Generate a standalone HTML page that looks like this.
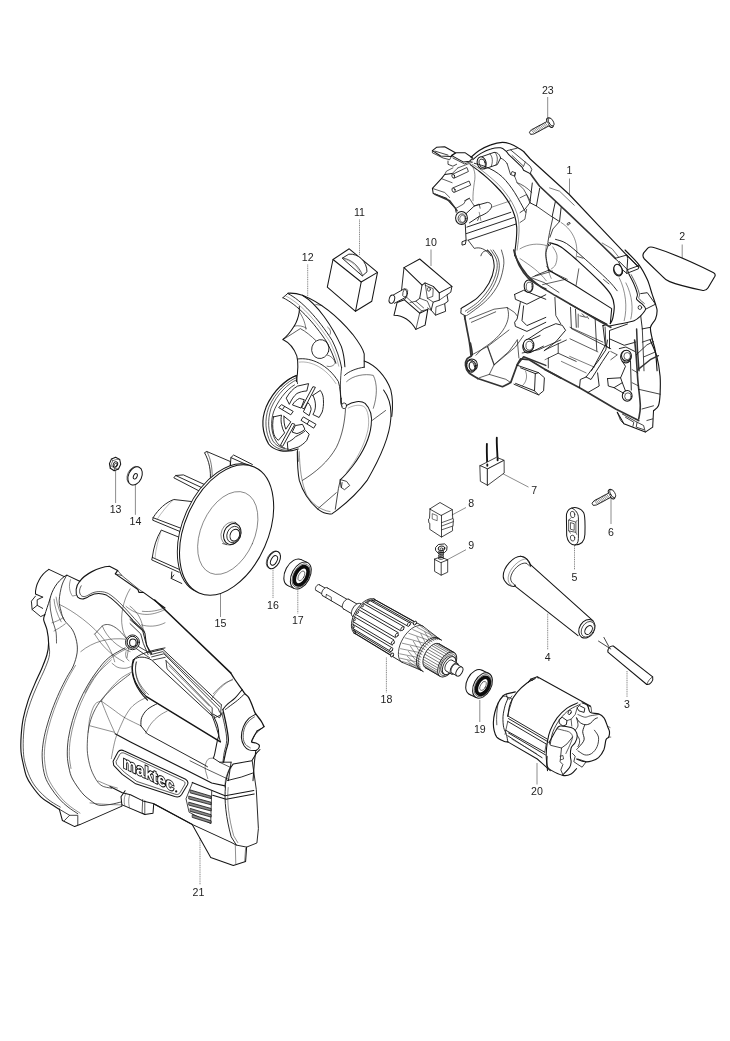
<!DOCTYPE html>
<html><head><meta charset="utf-8"><title>Parts diagram</title>
<style>
html,body{margin:0;padding:0;background:#fff;}
body{width:730px;height:1041px;overflow:hidden;font-family:"Liberation Sans",sans-serif;}
svg{display:block;filter:grayscale(1);}
svg text{font-family:"Liberation Sans",sans-serif;font-size:10.6px;fill:#222;text-anchor:middle;}
.ld line{stroke:#808080;stroke-width:0.9;}
.ld line.dt{stroke:#6a6a6a;stroke-width:0.8;stroke-dasharray:1.1 0.7;}
.pt path,.pt ellipse{stroke-linecap:round;stroke-linejoin:round;}
</style></head><body>
<svg width="730" height="1041" viewBox="0 0 730 1041">
<rect width="730" height="1041" fill="#fff"/>
<g class="ld">
<line x1="547.7" y1="97" x2="547.7" y2="117.5"/>
<line x1="569.5" y1="178.5" x2="569.5" y2="194.5"/>
<line x1="682.2" y1="244.5" x2="682.2" y2="258"/>
<line x1="431" y1="249.5" x2="431" y2="266"/>
<line x1="359.5" y1="219.5" x2="359.5" y2="255" class="dt"/>
<line x1="307.7" y1="264.5" x2="307.7" y2="296" class="dt"/>
<line x1="502.8" y1="473.7" x2="528.5" y2="487.1"/>
<line x1="451.8" y1="515.1" x2="466" y2="507.5"/>
<line x1="446.8" y1="560" x2="466" y2="549.7"/>
<line x1="611" y1="496.7" x2="611" y2="524"/>
<line x1="574.5" y1="542.7" x2="574.5" y2="570" class="dt"/>
<line x1="547.7" y1="613.7" x2="547.7" y2="650" class="dt"/>
<line x1="627" y1="671" x2="627" y2="697" class="dt"/>
<line x1="479.8" y1="700" x2="479.8" y2="722"/>
<line x1="537" y1="763" x2="537" y2="784.5"/>
<line x1="115.6" y1="470" x2="115.6" y2="503"/>
<line x1="135.4" y1="485" x2="135.4" y2="514.8"/>
<line x1="220.5" y1="592.7" x2="220.5" y2="617"/>
<line x1="273" y1="568" x2="273" y2="598.3" class="dt"/>
<line x1="297.8" y1="589.4" x2="297.8" y2="613.4" class="dt"/>
<line x1="386.4" y1="657.5" x2="386.4" y2="692.4" class="dt"/>
<line x1="200" y1="838" x2="200" y2="885" class="dt"/>
</g>
<g class="pt">
<path d="M 432.4 150.6 L 436.5 147.3 L 444.7 146.8 L 455.4 152.8 L 451.3 156.4 L 440.6 156 Z" fill="none" stroke="#151515" stroke-width="1.03"/>
<path d="M 434.9 151.1 L 448 155.1 M 432.4 150.6 L 432.4 152.8 L 443.1 158 L 449.7 159.7 L 451.3 156.4" fill="none" stroke="#151515" stroke-width="0.8"/>
<path d="M 448 161 L 448 164.3 L 452.9 166.2 L 456.6 164.3" fill="none" stroke="#151515" stroke-width="0.8"/>
<path d="M 451.3 155.4 L 456.2 152.8 L 465.3 152.8 L 472.7 158 L 469.4 161.3 L 463.6 162.1 Z" fill="none" stroke="#151515" stroke-width="1.03"/>
<path d="M 452.9 158 L 464.5 163.9 L 471.4 161.3" fill="none" stroke="#151515" stroke-width="0.8"/>
<path d="M471.0 157.2 C472.4 156.1 476.0 152.7 479.2 150.6 C482.5 148.6 486.9 146.2 490.8 144.9 C494.6 143.5 499.0 142.5 502.3 142.4 C505.5 142.3 507.7 143.1 510.5 144.0 C513.2 145.0 516.5 146.9 518.7 148.2 C520.9 149.4 522.8 150.9 523.6 151.4" fill="none" stroke="#151515" stroke-width="1.15"/>
<path d="M472.7 159.7 C474.0 158.6 477.9 155.2 480.9 153.4 C483.9 151.6 487.5 149.9 490.8 149.0 C494.0 148.0 498.0 147.4 500.6 147.8 C503.2 148.2 505.4 150.8 506.4 151.4" fill="none" stroke="#151515" stroke-width="1.03"/>
<path d="M 506.4 151.4 L 508.8 154.7 L 522 167.1 L 523.6 170.3 L 530.2 173.6" fill="none" stroke="#151515" stroke-width="1.03"/>
<path d="M 507.2 150.6 L 510.5 149.8 L 525.3 162.1 L 530.2 166.2 L 531.8 169.5 L 530.2 173.6 M 510.5 149.8 L 517.1 148.2" fill="none" stroke="#151515" stroke-width="0.8"/>
<path d="M 512.1 155.5 L 523.6 166.2 M 525.3 162.1 L 523.6 166.2" fill="none" stroke="#151515" stroke-width="0.69"/>
<path d="M 481.7 156.7 L 494 152.4 C 497.3 152.1 499.8 154.7 500.6 158 L 497.3 164.6 L 484.5 168.9" fill="none" stroke="#151515" stroke-width="0.92"/>
<ellipse cx="481.7" cy="162.9" rx="4.4" ry="6.2" transform="rotate(-15 481.7 162.9)" fill="#fff" stroke="#151515" stroke-width="1.03"/>
<ellipse cx="482.2" cy="163.3" rx="3.0" ry="4.4" transform="rotate(-15 482.2 163.3)" fill="none" stroke="#151515" stroke-width="0.8"/>
<path d="M 489.9 153.9 C 492.7 156.4 493.2 162.1 491.1 166.6 M 494.9 152.4 C 497.7 155.1 498.2 160.5 496 164.9" fill="none" stroke="#151515" stroke-width="0.69"/>
<path d="M470.2 164.6 C471.7 165.7 476.4 168.9 479.2 171.2 C482.1 173.4 484.7 175.6 487.5 178.1 C490.2 180.5 493.1 183.3 495.7 186.0 C498.3 188.6 500.8 191.2 503.1 194.2 C505.4 197.2 507.7 200.5 509.7 204.0 C511.6 207.6 513.4 211.7 514.6 215.5 C515.8 219.4 516.4 223.2 516.7 227.1 C517.0 230.9 516.7 234.7 516.4 238.6 C516.1 242.4 515.4 247.2 515.1 250.1 C514.8 252.9 514.7 254.9 514.6 255.8" fill="none" stroke="#151515" stroke-width="1.15"/>
<path d="M474.3 163.3 C476.0 163.8 480.9 165.0 484.2 166.2 C487.5 167.5 491.0 169.1 494.0 170.8 C497.1 172.6 499.8 174.7 502.3 176.9 C504.7 179.2 506.8 181.7 508.8 184.3 C510.9 186.9 512.7 189.5 514.6 192.5 C516.5 195.5 518.5 199.1 520.3 202.4 C522.2 205.7 524.7 210.6 525.6 212.3" fill="none" stroke="#151515" stroke-width="0.92"/>
<path d="M472.3 164.3 C473.9 165.3 478.8 168.2 481.7 170.3 C484.6 172.5 487.2 174.6 489.9 176.9 C492.7 179.2 495.5 181.7 498.2 184.3 C500.8 187.0 503.2 189.8 505.5 192.9 C507.9 195.9 510.2 199.2 512.1 202.7 C514.0 206.2 515.9 210.1 517.1 213.9 C518.2 217.7 518.8 221.6 519.0 225.4 C519.3 229.2 519.0 232.8 518.7 236.9 C518.4 241.0 517.3 247.9 517.1 250.1" fill="none" stroke="#3a3a3a" stroke-width="0.57"/>
<path d="M 500.6 158 C 503.9 159.7 505.9 161.3 507.2 163.8 M 507.2 163.8 L 510.5 174.5 L 514.6 176.1 L 515.4 172.8 L 512.1 171.5 L 510.8 174.5 M 515.4 172.8 L 514.6 176.1" fill="none" stroke="#151515" stroke-width="0.8"/>
<path d="M 514.6 176.1 L 517.1 182.7 L 523.6 189.2 L 530.2 200.8 M 517.1 182.7 C 522 184.3 526.9 187.6 531.8 192.5" fill="none" stroke="#151515" stroke-width="0.69"/>
<path d="M 432.4 188.4 L 441.4 178.6 L 444.7 174.5 L 452.1 173.6" fill="none" stroke="#151515" stroke-width="1.03"/>
<path d="M 432.4 188.4 L 433.2 193.4 L 446.4 198.3 L 451.3 204 L 455.4 208.2 L 456.2 212.3" fill="none" stroke="#151515" stroke-width="1.03"/>
<path d="M 434.9 194.2 L 449.7 200.8 L 457.1 210.6" fill="none" stroke="#333" stroke-width="1.49"/>
<path d="M 432.4 188.4 L 444.7 192.5 L 449.7 197.5 M 444.7 174.5 L 446.4 171.2 L 452.9 167.9 M 441.4 178.6 L 452.1 182.7" fill="none" stroke="#151515" stroke-width="0.69"/>
<path d="M 452.9 174.1 L 466.9 167.5 L 468.4 171.5 L 454.3 178.1" fill="none" stroke="#151515" stroke-width="0.8"/>
<ellipse cx="453.3" cy="176.1" rx="1.3" ry="2.1" transform="rotate(-20 453.3 176.1)" fill="#fff" stroke="#151515" stroke-width="0.8"/>
<path d="M 452.9 187.9 L 469.1 181 L 470.7 185.1 L 454.6 192.2" fill="none" stroke="#151515" stroke-width="0.8"/>
<ellipse cx="453.6" cy="190.1" rx="1.5" ry="2.3" transform="rotate(-20 453.6 190.1)" fill="#fff" stroke="#151515" stroke-width="0.8"/>
<path d="M 471 164.6 C 474.3 167.9 476 174.5 474.3 182.7 C 473.5 189.2 472.7 194.2 473 200.8" fill="none" stroke="#3a3a3a" stroke-width="0.57"/>
<path d="M 457.9 167.9 L 472.7 162.1 M 452.1 173.6 L 457.9 167.9" fill="none" stroke="#151515" stroke-width="0.69"/>
<ellipse cx="461.5" cy="218.0" rx="5.9" ry="6.6" transform="rotate(0 461.5 218.0)" fill="#fff" stroke="#151515" stroke-width="1.03"/>
<ellipse cx="462.0" cy="218.5" rx="3.9" ry="4.6" transform="rotate(0 462.0 218.5)" fill="none" stroke="#151515" stroke-width="0.8"/>
<ellipse cx="462.5" cy="218.8" rx="2.8" ry="3.5" transform="rotate(0 462.5 218.8)" fill="none" stroke="#151515" stroke-width="0.57"/>
<path d="M 466.1 213.6 L 474.3 206 L 487.5 202.4 C 490.8 202.7 492.1 204.9 491.4 207.3 C 489.9 211.4 484.2 214.7 479.2 216.4 L 469.4 222.9" fill="none" stroke="#151515" stroke-width="0.92"/>
<path d="M 474.3 206 L 479.2 204 L 480.1 208.2 M 479.2 216.4 L 477.6 220.5 M 464.5 200.8 L 469.4 198.3 L 474.3 206" fill="none" stroke="#151515" stroke-width="0.69"/>
<path d="M 456.2 208.2 L 463.6 204 L 466.1 199.9 L 469.4 198.3" fill="none" stroke="#151515" stroke-width="0.69"/>
<path d="M 465.3 224.6 L 466.1 240.2 L 462 241.8 L 462 245.1 L 465.3 244.3 L 466.1 240.2 M 466.9 227.1 L 510.8 212.3 M 466.4 233.6 L 513.8 217.5 M 468.1 240.2 L 515.7 224.1" fill="none" stroke="#151515" stroke-width="0.92"/>
<path d="M 468.1 240.2 L 474.3 248.4 C 479.2 246.8 485.8 248.4 490.8 255.8 M 480.9 255.8 C 481.7 252.5 484.2 250.1 487.5 250.9" fill="none" stroke="#151515" stroke-width="0.8"/>
<path d="M 479.2 212.3 L 480.9 220.5 M 491.4 207.3 L 510.5 200.8" fill="none" stroke="#3a3a3a" stroke-width="0.57"/>
<path d="M 523.6 151.5 L 530.2 159 L 569.3 194.5 L 598.9 225.8 L 625.2 253.7 L 638.7 267.2" fill="none" stroke="#151515" stroke-width="1.15"/>
<path d="M 530.2 173.6 L 539.4 186 L 569.3 214.2 L 602.2 245.5 L 615.3 258.3" fill="none" stroke="#333" stroke-width="1.61"/>
<path d="M 615.3 258.3 L 626.8 255 L 638.7 267.2 L 638.4 268.8 L 626.8 273.4 L 621.9 269.3 L 618.6 261.9 Z M 626.8 255 L 627.7 258.6 L 626.8 273.4" fill="none" stroke="#151515" stroke-width="0.92"/>
<path d="M 549.6 187.9 L 559.5 191.2 L 574.2 205.2 M 602.2 243 L 612.1 248.8 L 618.6 257" fill="none" stroke="#151515" stroke-width="0.57"/>
<ellipse cx="618.1" cy="270.5" rx="4.3" ry="5.6" transform="rotate(-20 618.1 270.5)" fill="#fff" stroke="#151515" stroke-width="1.03"/>
<ellipse cx="619.0" cy="271.1" rx="3.0" ry="4.1" transform="rotate(-20 619.0 271.1)" fill="none" stroke="#151515" stroke-width="0.69"/>
<ellipse cx="568.5" cy="223.8" rx="1.6" ry="1.0" transform="rotate(-30 568.5 223.8)" fill="none" stroke="#151515" stroke-width="0.69"/>
<ellipse cx="548.9" cy="244.2" rx="1.6" ry="1.5" transform="rotate(0 548.9 244.2)" fill="none" stroke="#151515" stroke-width="0.69"/>
<path d="M 532.3 183 L 529.9 202.7 L 536.4 206 L 539.7 188.3 M 555.3 201.9 L 552.1 216.7 L 559.5 221.6 L 561.1 207.7" fill="none" stroke="#151515" stroke-width="0.92"/>
<path d="M 536.4 206 L 552.9 217.5 L 549.6 232.3 L 547.9 242.2 M 559.5 221.6 L 552.9 229 L 549.9 237.3 M 529.9 202.7 L 524.9 209.3 L 520 212.6" fill="none" stroke="#151515" stroke-width="0.8"/>
<path d="M 520 197.8 L 526.6 194.5 L 529.9 202.7 M 520 222.5 L 524.9 219.2 L 526.6 209.3" fill="none" stroke="#151515" stroke-width="0.69"/>
<path d="M 561.1 222.5 C 574.2 230.7 579.2 245.5 575.9 258.6 M 520 248.8 C 528.2 243.8 538.1 243 546.3 245.5 M 520 258.6 C 529.9 265.2 539.7 271.8 546.3 280.8" fill="none" stroke="#3a3a3a" stroke-width="0.57"/>
<path d="M 546.3 245.5 C 544.7 255.3 546.3 266.8 551.2 278.4" fill="none" stroke="#3a3a3a" stroke-width="0.57"/>
<path d="M625.1 250.0 C627.4 252.5 635.3 259.9 639.0 264.8 C642.7 269.7 645.1 274.7 647.3 279.6 C649.5 284.5 650.8 290.3 652.2 294.4 C653.6 298.5 654.7 301.5 655.5 304.2 C656.3 307.0 657.1 308.4 657.1 310.8 C657.1 313.3 656.6 316.3 655.5 319.0 C654.4 321.8 651.1 324.0 650.5 327.3 C650.0 330.5 651.4 334.7 652.2 338.8 C653.0 342.9 654.7 346.6 655.5 351.9 C656.3 357.3 656.8 367.7 657.1 370.8" fill="none" stroke="#151515" stroke-width="1.15"/>
<path d="M 619.3 261.5 L 627.5 269.7 L 639 265.6 M 627.5 269.7 L 629.2 274.7" fill="none" stroke="#151515" stroke-width="0.92"/>
<ellipse cx="618.0" cy="269.7" rx="3.9" ry="5.6" transform="rotate(-20 618.0 269.7)" fill="#fff" stroke="#151515" stroke-width="1.03"/>
<path d="M629.2 274.7 C630.0 276.3 632.7 281.2 634.1 284.5 C635.5 287.8 637.0 291.9 637.4 294.4 C637.8 296.8 635.8 297.7 636.6 299.3 C637.4 301.0 640.8 302.6 642.3 304.2 C643.8 305.9 645.9 307.3 645.6 309.2 C645.3 311.1 642.6 313.8 640.7 315.8 C638.8 317.7 637.7 319.3 634.1 320.7 C630.5 322.1 623.4 323.1 619.3 324.0 C615.2 324.8 611.1 325.6 609.5 325.9" fill="none" stroke="#151515" stroke-width="1.03"/>
<path d="M631.2 274.7 C632.0 276.3 634.7 281.3 636.1 284.5 C637.5 287.8 638.9 291.7 639.4 294.1 C639.9 296.4 638.2 296.9 639.0 298.5 C639.9 300.1 643.4 302.6 644.3 303.4" fill="none" stroke="#151515" stroke-width="0.69"/>
<path d="M 640.7 293.6 L 647.3 292.7 L 655.5 304.2 L 645.6 309.2 M 642.3 328.9 L 650.5 327.3 M 640.7 315.8 L 642.3 328.9" fill="none" stroke="#151515" stroke-width="0.92"/>
<path d="M550.1 242.8 C551.9 243.5 556.5 243.9 561.0 246.9 C565.6 249.9 570.8 254.7 577.5 260.6 C584.1 266.6 595.2 276.8 600.8 282.5 C606.3 288.2 608.8 291.0 611.0 294.9 C613.3 298.7 613.9 301.9 614.2 305.8 C614.5 309.7 613.4 315.2 612.8 318.2 C612.2 321.1 610.8 322.7 610.3 323.6" fill="none" stroke="#151515" stroke-width="1.15"/>
<path d="M555.5 239.4 C557.4 240.1 561.9 240.5 566.5 243.5 C571.1 246.5 576.1 251.1 582.9 257.2 C589.8 263.2 601.9 274.2 607.6 279.8 C613.3 285.4 615.6 288.9 617.2 290.8" fill="none" stroke="#151515" stroke-width="0.92"/>
<path d="M 548.7 270.2 L 574.7 285.3 L 611.7 308.6 L 610.3 323.6" fill="none" stroke="#151515" stroke-width="1.03"/>
<path d="M548.7 244.2 C548.2 245.5 546.3 249.7 546.0 252.4 C545.6 255.1 546.2 257.6 546.6 260.6 C547.1 263.6 548.4 268.6 548.7 270.2" fill="none" stroke="#151515" stroke-width="0.92"/>
<path d="M 577.5 256.5 L 582.9 258.2 M 603.5 279.5 L 609 283.9 M 578.8 268.8 L 576.1 285.3" fill="none" stroke="#151515" stroke-width="0.69"/>
<path d="M 535 275.7 L 548.7 270.2" fill="none" stroke="#151515" stroke-width="0.8"/>
<path d="M552.8 246.9 C553.5 248.3 556.5 252.2 556.9 255.1 C557.4 258.1 556.5 262.4 555.5 264.7 C554.6 267.0 552.1 268.2 551.4 268.8" fill="none" stroke="#3a3a3a" stroke-width="0.57"/>
<path d="M 570 304.2 L 607 324.3 L 602.9 325.6" fill="none" stroke="#151515" stroke-width="1.15"/>
<path d="M 619.3 277.9 C 625.9 291.1 627.5 307.5 624.2 320.7 M 625.9 282.9 C 632.5 296 633.3 309.2 630.8 319" fill="none" stroke="#3a3a3a" stroke-width="0.57"/>
<ellipse cx="639.9" cy="307.5" rx="1.8" ry="2.0" transform="rotate(0 639.9 307.5)" fill="none" stroke="#151515" stroke-width="0.8"/>
<path d="M 602.9 325.6 L 605.3 345.3 L 609.5 348.6 L 609.5 330.5 L 627.5 324 M 609.5 338.8 L 624.2 345.3 L 635.8 342.1 M 619.3 348.6 L 625.9 347 L 635.8 351.9 M 605.3 345.3 L 594.7 365.1 L 591.4 370.8" fill="none" stroke="#151515" stroke-width="0.92"/>
<path d="M 578.2 314.1 L 578.2 327.3 M 570 327.3 L 602.9 342.1 M 570 338.8 L 597.9 351.9 M 579.9 315.8 L 586.4 317.4" fill="none" stroke="#151515" stroke-width="0.69"/>
<ellipse cx="625.9" cy="356.8" rx="5.3" ry="6.2" transform="rotate(0 625.9 356.8)" fill="#fff" stroke="#151515" stroke-width="1.03"/>
<ellipse cx="626.7" cy="357.7" rx="3.6" ry="4.4" transform="rotate(0 626.7 357.7)" fill="none" stroke="#151515" stroke-width="0.69"/>
<path d="M 636.6 328.9 L 637.4 348.6 L 639 370.8" fill="none" stroke="#333" stroke-width="1.49"/>
<path d="M 642.3 328.9 L 644 370.8 M 652.2 338.8 L 642.3 342.1 M 655.5 351.9 L 644 356.8" fill="none" stroke="#151515" stroke-width="0.8"/>
<path d="M487.5 250.0 C488.3 251.1 491.3 253.6 492.4 256.6 C493.5 259.6 494.6 263.7 494.0 268.1 C493.5 272.5 491.8 277.9 489.1 282.9 C486.4 287.8 482.3 293.4 477.6 297.7 C472.9 301.9 463.9 306.6 461.2 308.4" fill="none" stroke="#151515" stroke-width="1.03"/>
<path d="M490.8 250.0 C491.7 251.6 495.5 256.3 496.5 259.9 C497.5 263.4 497.5 267.0 496.5 271.4 C495.5 275.8 493.6 281.2 490.8 286.2 C487.9 291.1 483.5 296.8 479.2 301.0 C475.0 305.1 467.6 309.5 465.3 311.2" fill="none" stroke="#151515" stroke-width="0.69"/>
<path d="M493.2 250.0 C494.1 251.6 497.7 256.2 498.6 259.9 C499.5 263.6 499.6 267.6 498.6 272.2 C497.7 276.8 495.6 282.5 492.7 287.5 C489.8 292.5 485.4 298.1 481.2 302.3 C477.0 306.4 469.7 310.8 467.4 312.5" fill="none" stroke="#151515" stroke-width="0.69"/>
<path d="M501.4 250.0 C501.8 252.2 504.3 257.7 503.9 263.2 C503.5 268.6 501.7 276.8 499.0 282.9 C496.2 288.9 492.4 294.2 487.5 299.3 C482.5 304.5 473.1 311.1 469.4 313.8 C465.7 316.5 466.0 315.2 465.3 315.4" fill="none" stroke="#151515" stroke-width="0.69"/>
<path d="M 461.2 308.4 L 460.8 313.3 L 465.3 315.8 L 464.5 319" fill="none" stroke="#151515" stroke-width="0.92"/>
<path d="M464.5 315.8 C464.9 317.9 466.1 324.5 466.9 328.9 C467.7 333.3 468.7 337.7 469.4 342.1 C470.1 346.4 470.8 353.0 471.0 355.2" fill="none" stroke="#333" stroke-width="1.72"/>
<ellipse cx="471.8" cy="365.1" rx="5.6" ry="6.2" transform="rotate(0 471.8 365.1)" fill="none" stroke="#151515" stroke-width="1.03"/>
<ellipse cx="472.7" cy="365.7" rx="3.6" ry="4.4" transform="rotate(0 472.7 365.7)" fill="none" stroke="#151515" stroke-width="0.8"/>
<path d="M 469.4 319 L 494 309.2 L 507.2 307.5 L 514.6 312.5 L 517.1 315.8 M 471.4 322.3 L 495.7 311.8" fill="none" stroke="#151515" stroke-width="0.69"/>
<path d="M 507.2 307.5 C 512.1 319 503.9 335.5 482.5 348.6 L 476 355.2 M 487.5 347 L 494 365.1 L 515.4 347 L 523.6 335.5" fill="none" stroke="#151515" stroke-width="0.69"/>
<path d="M 514.6 294.4 L 523.6 290.3 L 545.8 299.3 M 514.6 294.4 L 515.4 299.3 L 526.9 304.2 L 545.8 294.7 M 520.3 302.6 L 517.1 319 L 514.6 322.3 L 515.4 326.4 L 526.9 331.4 L 545.8 322.3 M 523.6 305.9 L 522 320.7 L 526.9 325.6 L 545.8 317.4" fill="none" stroke="#151515" stroke-width="0.92"/>
<ellipse cx="528.6" cy="286.2" rx="4.4" ry="6.2" transform="rotate(0 528.6 286.2)" fill="#fff" stroke="#151515" stroke-width="1.03"/>
<ellipse cx="529.2" cy="286.8" rx="3.0" ry="4.6" transform="rotate(0 529.2 286.8)" fill="none" stroke="#151515" stroke-width="0.69"/>
<path d="M513.8 250.0 C514.3 251.6 514.9 255.8 517.1 259.9 C519.2 264.0 523.1 270.3 526.9 274.7 C530.8 279.0 536.9 283.8 540.1 286.2 C543.2 288.5 544.9 288.5 545.8 289.0" fill="none" stroke="#333" stroke-width="1.61"/>
<ellipse cx="527.7" cy="347.0" rx="4.9" ry="5.9" transform="rotate(0 527.7 347.0)" fill="#fff" stroke="#151515" stroke-width="1.03"/>
<ellipse cx="528.6" cy="347.6" rx="3.3" ry="4.3" transform="rotate(0 528.6 347.6)" fill="none" stroke="#151515" stroke-width="0.69"/>
<path d="M 527.7 341.1 L 540.1 335.5 M 530.2 352.7 L 543.4 346.2" fill="none" stroke="#151515" stroke-width="0.92"/>
<path d="M 517.1 365.1 L 523.6 356.8 L 545.8 365.4" fill="none" stroke="#333" stroke-width="1.49"/>
<path d="M514.7 253.0 C515.5 255.2 517.4 262.1 519.6 266.2 C521.8 270.3 524.5 274.4 527.8 277.7 C531.1 281.0 534.7 282.9 539.3 285.9 C544.0 288.9 549.7 292.2 555.8 295.8 C561.8 299.3 568.9 303.4 575.5 307.3 C582.1 311.1 589.3 315.4 595.2 318.8 C601.1 322.1 608.2 325.9 610.8 327.3" fill="none" stroke="#333" stroke-width="1.61"/>
<path d="M 531.1 277.7 L 544.2 282.6 L 559 292.5" fill="none" stroke="#151515" stroke-width="0.69"/>
<path d="M546.7 266.2 C547.7 267.1 549.0 269.7 552.5 271.9 C555.9 274.1 564.8 278.1 567.3 279.3" fill="none" stroke="#151515" stroke-width="0.69"/>
<path d="M 532.7 276.8 L 552.5 271.1 M 542.6 284.6 L 565.6 279.3" fill="none" stroke="#151515" stroke-width="0.69"/>
<path d="M 554.9 297.4 L 555.8 315.5 L 560.7 323.7 M 570.5 307.3 L 571.4 328.6 L 610.8 348.7 M 575.5 309.2 L 576.3 327.3 M 595.2 319.6 L 596.8 350.8 M 605.1 327 L 605.9 345.1" fill="none" stroke="#151515" stroke-width="0.8"/>
<path d="M 527.8 339.3 L 544.2 328.6 L 555.8 323.7 L 562.3 325.3 L 565.6 330.3 L 555.8 341.8 L 544.2 350.8" fill="none" stroke="#151515" stroke-width="0.92"/>
<ellipse cx="528.6" cy="345.1" rx="5.3" ry="6.2" transform="rotate(0 528.6 345.1)" fill="#fff" stroke="#151515" stroke-width="1.03"/>
<ellipse cx="529.5" cy="345.7" rx="3.6" ry="4.4" transform="rotate(0 529.5 345.7)" fill="none" stroke="#151515" stroke-width="0.69"/>
<path d="M 582.1 313.8 L 584.5 316.3 M 587 316.3 L 588.6 318.8" fill="none" stroke="#151515" stroke-width="0.69"/>
<path d="M470.4 343.2 C470.7 345.1 472.6 352.1 472.1 354.7 C471.5 357.3 468.2 357.0 467.1 358.8 C466.0 360.5 465.2 363.0 465.5 365.3 C465.8 367.7 466.7 370.5 468.8 372.7 C470.8 374.9 476.3 377.5 477.8 378.5" fill="none" stroke="#333" stroke-width="1.72"/>
<path d="M 477.8 378.5 L 502.5 386.7 L 510.7 382.6 L 517.3 364.5 L 520.5 358.8 L 528.8 359.6 L 545.2 369.5 L 560.8 378" fill="none" stroke="#333" stroke-width="1.72"/>
<ellipse cx="471.2" cy="366.2" rx="4.3" ry="6.2" transform="rotate(-10 471.2 366.2)" fill="none" stroke="#151515" stroke-width="0.92"/>
<ellipse cx="471.9" cy="366.5" rx="2.6" ry="4.4" transform="rotate(-10 471.9 366.5)" fill="none" stroke="#151515" stroke-width="0.69"/>
<path d="M 517.3 365.3 L 538.6 372.7 L 544.4 377.7 L 543.6 390.8 L 538.6 394.9 L 514 384.2 M 520.5 367.8 L 535.3 373.6 L 534.5 390.8 L 515.6 383.4 M 538.6 372.7 L 535.3 373.6 M 538.6 394.9 L 534.5 390.8" fill="none" stroke="#151515" stroke-width="0.92"/>
<path d="M 525.5 371.1 C 527.9 376 526.3 382.6 522.2 385.9" fill="none" stroke="#3a3a3a" stroke-width="0.57"/>
<path d="M 472.1 354.7 L 487.7 346.4 L 509 330 M 487.7 346.4 L 494.2 364.5 L 489.3 374.4 L 479.5 377.7 M 494.2 364.5 L 509 351.4 L 517.3 339.9 M 489.3 374.4 L 505.8 379.3 L 510.7 382.6 M 517.3 339.9 L 518.9 357.9" fill="none" stroke="#151515" stroke-width="0.69"/>
<path d="M 522.2 353 L 538.6 349.7 L 560.8 339.9" fill="none" stroke="#151515" stroke-width="0.8"/>
<path d="M 545 369.6 L 579.5 387.7 L 587.7 392.6 L 615.7 409 L 638.7 420.5" fill="none" stroke="#333" stroke-width="1.72"/>
<path d="M634.6 340.0 C634.9 342.7 635.7 349.6 636.2 356.4 C636.8 363.3 637.2 372.9 637.9 381.1 C638.6 389.3 640.2 399.5 640.3 405.8 C640.5 412.1 639.0 416.7 638.7 418.9" fill="none" stroke="#333" stroke-width="1.61"/>
<path d="M650.2 340.0 C651.3 342.7 655.1 350.4 656.8 356.4 C658.4 362.5 659.5 369.9 660.1 376.2 C660.6 382.5 660.3 389.3 660.1 394.2 C659.8 399.2 659.5 403.0 658.4 405.8 C657.3 408.5 654.3 409.9 653.5 410.7" fill="none" stroke="#151515" stroke-width="1.15"/>
<path d="M 653.5 410.7 L 652.7 427.1 L 645.3 432.1 L 623.9 423.8 L 617.3 412.3" fill="none" stroke="#151515" stroke-width="1.03"/>
<path d="M 636.2 354.8 L 646.9 344.9 L 653.5 341.6 M 638.7 389.3 L 660.1 394.2 M 642 409 L 653.5 405.8" fill="none" stroke="#151515" stroke-width="0.8"/>
<path d="M 637.9 369.6 L 650.2 359.7 L 658.4 355.6" fill="none" stroke="#333" stroke-width="1.38"/>
<path d="M 622.3 414 L 637.1 422.2 L 643.6 425.5 L 645.3 432.1 M 637.1 422.2 L 636.2 427.1 L 643.6 429.6 M 646.9 420.5 L 652.7 418.9 M 625.5 417.3 L 633.8 422.2 L 632.9 426.3 M 617.3 412.3 L 620.6 420.5 L 623.9 423.8" fill="none" stroke="#151515" stroke-width="0.8"/>
<path d="M 548.3 358.1 L 548.3 367.9 M 548.3 358.1 L 558.2 353.2 L 576.2 361.4 M 558.2 353.2 L 558.2 343.3 M 545 349.9 L 566.4 340" fill="none" stroke="#151515" stroke-width="0.8"/>
<path d="M 579.5 387.7 L 580.3 379.5 L 586.1 377 L 599.2 359.7 L 605.8 349.9 L 607.5 340 M 586.1 377 L 591 379.5 L 602.5 361.4 L 609.1 351.5 M 587.7 392.6 L 599.2 386 L 597.6 372.9" fill="none" stroke="#151515" stroke-width="0.92"/>
<path d="M 561.4 361.4 L 586.1 372.9 M 569.7 356.4 L 594.3 367.1 M 545 359.7 L 548.3 358.1" fill="none" stroke="#151515" stroke-width="0.57"/>
<ellipse cx="626.4" cy="355.6" rx="4.9" ry="5.3" transform="rotate(0 626.4 355.6)" fill="#fff" stroke="#151515" stroke-width="1.03"/>
<ellipse cx="627.2" cy="356.1" rx="3.3" ry="3.6" transform="rotate(0 627.2 356.1)" fill="none" stroke="#151515" stroke-width="0.69"/>
<ellipse cx="627.2" cy="395.9" rx="4.9" ry="5.3" transform="rotate(0 627.2 395.9)" fill="#fff" stroke="#151515" stroke-width="1.03"/>
<ellipse cx="628.0" cy="396.4" rx="3.3" ry="3.6" transform="rotate(0 628.0 396.4)" fill="none" stroke="#151515" stroke-width="0.69"/>
<path d="M 622.3 361.4 L 625.5 366.3 L 620.6 377.8 L 622.3 382.7 L 625.5 391 M 630.5 361 L 631.3 390.1" fill="none" stroke="#151515" stroke-width="0.92"/>
<path d="M 607.5 378.6 L 608.3 386 L 614 387.7 L 622.3 382.7 M 607.5 378.6 L 620.6 377.8 M 614 387.7 L 623.9 393.4" fill="none" stroke="#151515" stroke-width="0.92"/>
<path d="M 610.8 351.5 L 617.3 354.8 L 610.8 359.7 M 632.1 369.6 L 637.9 372.9 M 632.1 382.7 L 638.7 386" fill="none" stroke="#151515" stroke-width="0.69"/>
<path d="M 647.8 248.1 C 649.2 246.8 651.9 246.8 654.7 247.8 C 671.1 252.9 695.8 263.8 713.6 272.7 C 715.2 273.7 715.5 274.8 714.9 276.2 L 708.1 287.8 C 706.7 290.1 704.7 291 701.9 290.3 C 690.3 287.8 676.6 284.4 669.7 281.6 C 667 280.5 664.9 279.2 662.9 276.8 L 644.4 259 C 642.6 257 642.6 254.9 643.7 252.9 Z" fill="none" stroke="#151515" stroke-width="1.15"/>
<path d="M 530.8 565.6 C 529.5 560.7 525.4 556.2 520.5 556.2 C 513.9 556.2 503.2 566.4 503.2 576.3 C 503.2 581.2 509 586.6 513.9 586.6 L 515.5 585.2" fill="none" stroke="#151515" stroke-width="1.03"/>
<path d="M 520.5 556.2 C 522.9 556.6 525.4 557.8 526.6 558.9" fill="none" stroke="#151515" stroke-width="0.69"/>
<path d="M 526.6 558.9 C 519.7 558.2 509 568.9 508.2 577.1 C 507.7 581.2 509 583.7 511.4 585.2" fill="none" stroke="#555" stroke-width="0.57"/>
<path d="M 526.2 563.2 C 520.5 561.5 511.4 570.5 510.6 577.9 C 510.5 581.2 512.3 583.3 514.7 584.9" fill="none" stroke="#151515" stroke-width="0.8"/>
<path d="M 526.2 563.2 L 530.8 566.8 M 526.6 558.9 L 530.8 565.6" fill="none" stroke="#151515" stroke-width="0.69"/>
<path d="M 529.9 564.2 L 593.1 620.9 M 514.7 585.9 L 578 635.7" fill="none" stroke="#151515" stroke-width="1.03"/>
<ellipse cx="586.9" cy="628.8" rx="7.4" ry="9.9" transform="rotate(32 586.9 628.8)" fill="#fff" stroke="#151515" stroke-width="1.03"/>
<ellipse cx="587.9" cy="629.3" rx="5.9" ry="8.4" transform="rotate(32 587.9 629.3)" fill="#fff" stroke="#151515" stroke-width="0.69"/>
<ellipse cx="588.6" cy="630.0" rx="3.2" ry="4.9" transform="rotate(32 588.6 630.0)" fill="#fff" stroke="#151515" stroke-width="1.03"/>
<path d="M 613.3 646 L 652.7 676.8 C 653.7 680.5 650.3 685 646.8 684.5 L 607.9 652.2 C 607.4 648.5 610.3 645.5 613.3 646 Z" fill="#fff" stroke="#151515" stroke-width="1.03"/>
<path d="M 652.7 676.8 C 650.3 678.1 647.8 681 646.8 684.5" fill="none" stroke="#151515" stroke-width="0.69"/>
<path d="M 610.8 649 L 598.5 641.1 M 608.8 646.5 L 603.9 637.4" fill="none" stroke="#151515" stroke-width="0.8"/>
<ellipse cx="550.0" cy="122.6" rx="2.4" ry="5.2" transform="rotate(151.85321878587794 550.0 122.6)" fill="#fff" stroke="#151515" stroke-width="1.03"/>
<ellipse cx="551.1" cy="122.0" rx="2.2" ry="4.4" transform="rotate(151.85321878587794 551.1 122.0)" fill="#fff" stroke="#151515" stroke-width="0.8"/>
<path d="M 546.8 121.6 L 531.5 129.8 L 529.4 132.2 L 530.6 134.4 L 533.8 134 L 549 125.8" fill="#fff" stroke="#151515" stroke-width="0.92"/>
<path d="M 544.8 122.7 L 548 126.4" fill="none" stroke="#333" stroke-width="0.57"/>
<path d="M 543.3 123.5 L 546.5 127.2" fill="none" stroke="#333" stroke-width="0.57"/>
<path d="M 541.8 124.3 L 545 128" fill="none" stroke="#333" stroke-width="0.57"/>
<path d="M 540.3 125.1 L 543.5 128.8" fill="none" stroke="#333" stroke-width="0.57"/>
<path d="M 538.8 125.9 L 542 129.6" fill="none" stroke="#333" stroke-width="0.57"/>
<path d="M 537.3 126.7 L 540.5 130.4" fill="none" stroke="#333" stroke-width="0.57"/>
<path d="M 535.8 127.5 L 539 131.2" fill="none" stroke="#333" stroke-width="0.57"/>
<path d="M 534.3 128.3 L 537.5 132" fill="none" stroke="#333" stroke-width="0.57"/>
<path d="M 532.8 129.1 L 536 132.8" fill="none" stroke="#333" stroke-width="0.57"/>
<path d="M 531.3 129.9 L 534.5 133.6" fill="none" stroke="#333" stroke-width="0.57"/>
<ellipse cx="611.6" cy="494.2" rx="2.4" ry="5.2" transform="rotate(152.00582873368054 611.6 494.2)" fill="#fff" stroke="#151515" stroke-width="1.03"/>
<ellipse cx="612.7" cy="493.6" rx="2.2" ry="4.4" transform="rotate(152.00582873368054 612.7 493.6)" fill="#fff" stroke="#151515" stroke-width="0.8"/>
<path d="M 608.4 493.2 L 594.1 500.8 L 592 503.2 L 593.2 505.4 L 596.4 505 L 610.6 497.4" fill="#fff" stroke="#151515" stroke-width="0.92"/>
<path d="M 606.4 494.2 L 609.5 498" fill="none" stroke="#333" stroke-width="0.57"/>
<path d="M 604.9 495 L 608 498.8" fill="none" stroke="#333" stroke-width="0.57"/>
<path d="M 603.4 495.8 L 606.5 499.6" fill="none" stroke="#333" stroke-width="0.57"/>
<path d="M 601.9 496.6 L 605 500.4" fill="none" stroke="#333" stroke-width="0.57"/>
<path d="M 600.4 497.4 L 603.5 501.2" fill="none" stroke="#333" stroke-width="0.57"/>
<path d="M 598.9 498.2 L 602 502" fill="none" stroke="#333" stroke-width="0.57"/>
<path d="M 597.4 499 L 600.5 502.8" fill="none" stroke="#333" stroke-width="0.57"/>
<path d="M 595.9 499.8 L 599 503.6" fill="none" stroke="#333" stroke-width="0.57"/>
<path d="M 594.4 500.6 L 597.5 504.4" fill="none" stroke="#333" stroke-width="0.57"/>
<path d="M 571.8 508.1 C 575.6 506.7 581.1 508.4 583.6 512.5 C 585.5 515.9 585.2 522.1 584.9 534.4 C 584.7 540.5 581.1 544.7 574.9 545.1 C 570.8 545.1 567.4 541.2 566.7 535.8 L 566.4 516.6 C 566.4 511.1 568.8 509 571.8 508.1 Z" fill="#fff" stroke="#151515" stroke-width="1.03"/>
<path d="M 571.8 508.1 C 575.9 509.7 578.4 513.8 578.4 517.9 L 578.4 538.5 C 578.4 542.6 576.7 544.7 574.9 545.1" fill="none" stroke="#151515" stroke-width="0.92"/>
<ellipse cx="572.6" cy="514.5" rx="2.2" ry="3.3" transform="rotate(-10 572.6 514.5)" fill="none" stroke="#151515" stroke-width="0.69"/>
<ellipse cx="572.6" cy="538.1" rx="2.2" ry="3.0" transform="rotate(-10 572.6 538.1)" fill="none" stroke="#151515" stroke-width="0.69"/>
<path d="M 569 520 L 575.9 522.1 L 575.9 532.3 L 569 531 Z M 570.8 522.7 L 574.2 523.7 L 574.2 530.3 L 570.8 529.3 Z" fill="none" stroke="#151515" stroke-width="0.69"/>
<path d="M 569 520 L 570.8 517.9 M 575.9 522.1 L 577 520.4 M 569 531 L 570.4 533.3 M 575.9 532.3 L 576.7 534.4" fill="none" stroke="#151515" stroke-width="0.57"/>
<path d="M 486.9 443.8 C 486.6 450.7 487 458.4 487.3 465.8" fill="none" stroke="#111" stroke-width="1.84"/>
<path d="M 496.8 437.7 C 496.5 444.6 497.5 453.8 497.6 460.3" fill="none" stroke="#111" stroke-width="1.84"/>
<path d="M 480.2 465.6 L 496.5 457.3 L 504.1 460.3 L 487.6 468.9 Z" fill="#fff" stroke="#151515" stroke-width="0.8"/>
<path d="M 480.2 465.6 L 487.6 468.9 L 487.6 485.3 L 480.7 481.5 Z" fill="#fff" stroke="#151515" stroke-width="0.8"/>
<path d="M 487.6 468.9 L 504.1 460.3 L 504.2 473 L 487.6 485.3 Z" fill="#fff" stroke="#151515" stroke-width="0.8"/>
<path d="M 487.3 465.8 L 487.3 464.3 M 497.6 460.3 L 497.6 458.4" fill="none" stroke="#111" stroke-width="1.84"/>
<path d="M 430 508.8 L 440 502.5 L 452.3 509.6 L 441.5 515.3 Z" fill="none" stroke="#151515" stroke-width="0.8"/>
<path d="M 430 508.8 L 429.5 518.4 L 428.5 519.1 L 428.8 522.7 L 429.8 523.3 L 429.8 529.4 L 441.5 537.1 L 441.5 515.3" fill="none" stroke="#151515" stroke-width="0.8"/>
<path d="M 452.3 509.6 L 452.7 518.4 L 453.4 519.1 L 453 526.1 L 452.4 526.8 L 452.6 530.7 L 441.5 537.1" fill="none" stroke="#151515" stroke-width="0.8"/>
<path d="M 441.5 522.7 L 453 518.5 M 441.5 526.1 L 453.2 521.7 M 441.5 529.9 L 452.6 526.1" fill="none" stroke="#151515" stroke-width="0.69"/>
<path d="M 432.6 513.8 L 437.2 515.6 L 437.2 520.7 L 432.6 519.1 Z" fill="none" stroke="#151515" stroke-width="0.57"/>
<path d="M 434.6 559.1 L 440.7 556.8 L 447.7 559.9 L 441.2 562.5 Z" fill="none" stroke="#151515" stroke-width="0.8"/>
<path d="M 434.6 559.1 L 434.6 571.4 L 441.2 575.2 L 441.2 562.5" fill="none" stroke="#151515" stroke-width="0.8"/>
<path d="M 447.7 559.9 L 447.7 572.2 L 441.2 575.2" fill="none" stroke="#151515" stroke-width="0.8"/>
<path d="M 438.4 551.9 C 439.2 553.3 443.1 552.8 444 551.4 C 443.4 550.3 439.4 550.6 438.4 551.9" fill="none" stroke="#151515" stroke-width="0.69"/>
<path d="M 438.4 553.6 C 439.2 554.9 443.1 554.5 444 553.1 C 443.4 552 439.4 552.3 438.4 553.6" fill="none" stroke="#151515" stroke-width="0.69"/>
<path d="M 438.4 555.3 C 439.2 556.6 443.1 556.2 444 554.8 C 443.4 553.7 439.4 554 438.4 555.3" fill="none" stroke="#151515" stroke-width="0.69"/>
<path d="M 438.4 556.9 C 439.2 558.3 443.1 557.9 444 556.5 C 443.4 555.4 439.4 555.7 438.4 556.9" fill="none" stroke="#151515" stroke-width="0.69"/>
<path d="M 438.4 558.6 C 439.2 560 443.1 559.6 444 558.2 C 443.4 557.1 439.4 557.4 438.4 558.6" fill="none" stroke="#151515" stroke-width="0.69"/>
<path d="M 435.8 547.3 L 438.4 544.5 L 444.6 543.9 L 447.1 546.3 L 446.7 550.3 L 444.6 552.5 L 438.1 553.1 L 435.8 550.6 Z" fill="none" stroke="#151515" stroke-width="0.92"/>
<ellipse cx="441.5" cy="548.5" rx="3.4" ry="2.5" transform="rotate(-10 441.5 548.5)" fill="none" stroke="#151515" stroke-width="0.92"/>
<ellipse cx="441.5" cy="549.1" rx="1.5" ry="1.2" transform="rotate(-10 441.5 549.1)" fill="none" stroke="#151515" stroke-width="0.69"/>
<path d="M 333 259.5 L 349.2 248.8 L 377.5 272.4 L 361.2 282 Z" fill="none" stroke="#151515" stroke-width="1.03"/>
<path d="M 333 259.5 L 327.3 287.2 L 355.5 311.3 L 361.2 282" fill="none" stroke="#151515" stroke-width="1.03"/>
<path d="M 377.5 272.4 L 371.8 301.2 L 355.5 311.3" fill="none" stroke="#151515" stroke-width="1.03"/>
<path d="M 342.6 258 L 348.8 254.2 C 358.4 253.2 367 261.8 367 271.8 L 362.6 275.7 Z" fill="#fff" stroke="#151515" stroke-width="0.92"/>
<path d="M 342.6 258 C 350.7 259 359.3 265.7 362.6 275.7" fill="none" stroke="#151515" stroke-width="0.69"/>
<path d="M 344.5 259.2 C 351.6 260.9 358 266.6 360.7 274.3" fill="none" stroke="#666" stroke-width="0.46"/>
<path d="M 404 267.6 L 419.7 259 L 451.9 286.4 L 439.3 292.9 L 433.2 286.4 L 425.1 282.9 L 422 285.2 Z" fill="none" stroke="#151515" stroke-width="1.03"/>
<path d="M 404 267.6 L 401.5 290.6 L 405.3 292.5 M 422 285.2 L 419.7 298.3 L 415.9 301.2" fill="none" stroke="#151515" stroke-width="0.92"/>
<path d="M 451.9 286.4 L 450.8 292.2 L 447 294.8 L 448.1 301.2 L 444.7 303.7 L 445.6 311.3 L 435.5 315.2 L 431.2 310.2 L 433.2 302.1 L 439.3 300.2 L 439.3 292.9" fill="none" stroke="#151515" stroke-width="0.92"/>
<path d="M 439.3 300.2 L 447 294.8 M 433.2 302.1 L 427.4 298.3 L 425.1 282.9 M 435.5 315.2 L 436 306.9 L 444.7 303.7 M 431.2 310.2 L 427.4 307.9" fill="none" stroke="#151515" stroke-width="0.69"/>
<path d="M 425.1 285.2 L 433.2 288.7 L 432.8 296.4 L 427.4 298.3 M 419.7 298.3 L 427.4 301.2 L 431.2 310.2" fill="none" stroke="#151515" stroke-width="0.69"/>
<ellipse cx="428.9" cy="289.3" rx="1.5" ry="1.9" transform="rotate(0 428.9 289.3)" fill="none" stroke="#151515" stroke-width="0.69"/>
<path d="M 393.3 295 L 404.4 288.7 C 406.7 289.7 407.8 293.5 406.7 296.8 L 394.4 303.3" fill="#fff" stroke="#151515" stroke-width="0.92"/>
<ellipse cx="391.9" cy="299.2" rx="2.7" ry="4.2" transform="rotate(15 391.9 299.2)" fill="#fff" stroke="#151515" stroke-width="0.92"/>
<ellipse cx="405.2" cy="292.9" rx="2.3" ry="4.2" transform="rotate(15 405.2 292.9)" fill="none" stroke="#151515" stroke-width="0.69"/>
<path d="M 397.1 302.5 L 404.4 299.8 L 419.7 313.2 L 427.8 309.4 L 425.1 325.1 L 415.9 329.4 C 410.1 319.4 402.5 315.5 394 315.2 Z" fill="#fff" stroke="#151515" stroke-width="1.03"/>
<path d="M 419.7 313.2 L 415.9 329.4 M 404.4 299.8 L 406.7 297.3 L 421.6 310.8 L 419.7 313.2 M 421.6 310.8 L 427.8 309.4" fill="none" stroke="#151515" stroke-width="0.69"/>
<path d="M 410.1 302.5 L 415.9 301.2 L 423.6 307.9" fill="none" stroke="#151515" stroke-width="0.69"/>
<path d="M 288 293.2 C 294.2 292.8 299.3 294.2 302.4 295.3 C 317.8 304.5 332.2 326.1 341.4 346.6 C 343.5 352.8 344.5 360 344.9 366.8" fill="none" stroke="#151515" stroke-width="1.03"/>
<path d="M 288 293.2 L 282.9 297.7 M 288 293.6 C 301.4 300.4 317.8 317.9 332.2 340.5 C 336.3 348.7 340 359 341.6 367.6" fill="none" stroke="#151515" stroke-width="0.92"/>
<path d="M 282.9 297.7 C 297.3 304.5 313.7 322 327.1 342.5 C 331.2 350.8 334.2 357.9 335.9 363.1" fill="none" stroke="#151515" stroke-width="0.92"/>
<path d="M 285.3 295.7 C 299.3 302.5 315.8 319.9 329.7 341.5 C 333.8 349.7 337.3 359 338.8 366.2" fill="none" stroke="#555" stroke-width="0.46"/>
<path d="M 302.4 295.3 C 317.8 301.4 336.3 314.8 352.7 334.3 C 358.9 342.5 363 348.7 364.2 353.8 L 364.2 367.2" fill="none" stroke="#151515" stroke-width="1.03"/>
<path d="M 364.2 361 C 375.3 365.1 385.6 375.4 390.8 389.8 C 392.8 398 392.8 408.3 391.8 416.5" fill="none" stroke="#151515" stroke-width="1.03"/>
<path d="M 315.8 304.5 L 321.9 305.5 M 327.7 327.1 C 330.5 329.2 331.2 332.3 330.1 334.3" fill="none" stroke="#151515" stroke-width="0.57"/>
<path d="M 299.3 306.6 L 299.3 311.7 C 298.3 317.9 296.2 323 294.2 326.1 C 291.1 331.2 287 336.4 282.9 339.5 C 289 342.5 294.2 348.7 296.8 355.9 C 298.9 364.1 297.7 373.4 296.4 381.6" fill="none" stroke="#151515" stroke-width="1.03"/>
<path d="M 282.9 339.5 C 290.1 335.3 296.2 331.2 300.3 328.6 C 305.5 331.2 311.6 336.4 315.8 340.5" fill="none" stroke="#151515" stroke-width="0.69"/>
<path d="M 294.2 326.1 C 298.3 325.1 303.4 326.1 306.5 328.2 M 299.3 311.7 C 303.4 317.9 305.5 324 305.9 329.2" fill="none" stroke="#151515" stroke-width="0.57"/>
<ellipse cx="320.3" cy="349.1" rx="8.6" ry="9.5" transform="rotate(15 320.3 349.1)" fill="none" stroke="#151515" stroke-width="0.8"/>
<path d="M 327.1 354.9 C 331.2 355.9 334.2 359 335.3 363.1 C 333.2 366.2 330.1 367.2 327.1 366.2" fill="none" stroke="#151515" stroke-width="0.57"/>
<path d="M 297.7 359 C 311.6 356.9 328.1 365.1 338.4 381.6 C 340.4 387.7 340.4 396 341.2 403.2" fill="none" stroke="#151515" stroke-width="0.92"/>
<path d="M 299.3 362.1 C 311.6 360.6 326 368.2 335.9 383.6" fill="none" stroke="#555" stroke-width="0.46"/>
<path d="M 341.6 367.6 C 340.4 377.5 339.6 391.8 341.6 404.2" fill="none" stroke="#151515" stroke-width="0.8"/>
<path d="M 344.5 375.4 C 348.6 371.3 356.8 368.2 364.2 367.2" fill="none" stroke="#151515" stroke-width="0.92"/>
<path d="M 346.6 381.6 C 352.7 375.4 365.1 373.4 373.3 375.4 C 377.4 383.6 377.4 396 373.3 408.3" fill="none" stroke="#151515" stroke-width="0.57"/>
<ellipse cx="344.1" cy="405.8" rx="2.5" ry="2.9" transform="rotate(0 344.1 405.8)" fill="#fff" stroke="#151515" stroke-width="0.8"/>
<path d="M 296.4 375.4 C 291.1 377.5 284.9 381.6 280.8 386.7" fill="none" stroke="#151515" stroke-width="0.69"/>
<path d="M 383.6 390 C 389.7 398.2 391.8 406.4 390.8 418.8 C 389.7 435.2 381.5 455.8 367.1 480.4 C 361 488.6 348.6 502 332.2 513.7 C 328.1 514.5 321.9 512.3 317.8 509.2 C 309.6 502 302.4 490.7 299.3 480.4 C 297.7 472.2 297.3 461.9 297.3 451.6" fill="none" stroke="#151515" stroke-width="1.03"/>
<path d="M 299.3 451.6 C 299.7 468.1 301.4 482.5 306.5 494.8 C 311.6 503 319.9 510.2 330.1 511.6" fill="none" stroke="#444" stroke-width="0.57"/>
<path d="M 346.6 405.4 C 352.7 401.3 361 400.3 365.1 403.4 C 370.2 408.5 372.3 416.7 371.2 424.9 C 370.2 435.2 365.1 449.6 352.7 466 C 348.6 471.2 344.5 476.3 340.4 479.6" fill="none" stroke="#151515" stroke-width="1.03"/>
<path d="M 348.2 408.1 C 354.8 404.4 362 404.4 365.1 407.5 C 369.2 412.6 369.6 424.9 367.1 433.2 C 364 445.5 356.8 459.9 346.6 472.2" fill="none" stroke="#555" stroke-width="0.46"/>
<path d="M 340.4 479.6 L 338.4 488.6 L 335.3 509.2 M 340.4 479.6 L 346.6 481.4 L 349.7 485.5 L 344.5 489.7 L 341.4 487.6 Z M 341.4 487.6 L 342.1 482.5" fill="none" stroke="#151515" stroke-width="0.8"/>
<path d="M 385.6 410.5 L 371.6 420.8 M 317.8 508.8 L 336.3 492.7" fill="none" stroke="#151515" stroke-width="0.69"/>
<path d="M 302.4 480.4 C 315.8 472.2 328.1 461.9 336.3 447.5 C 342.5 435.2 344.9 420.8 345.5 408.9" fill="none" stroke="#151515" stroke-width="0.69"/>
<path d="M 341.4 398.2 C 340.4 401.3 340.4 404.4 342.1 406.4" fill="none" stroke="#151515" stroke-width="0.8"/>
<path d="M 296.3 375.6 C 287.1 378.7 273.5 389.8 266.1 407.1 C 261.2 419.4 262.4 432.9 268.6 444 C 273.5 450.2 284.6 453.9 298.2 449" fill="none" stroke="#151515" stroke-width="1.15"/>
<path d="M 296.3 377.7 C 287.7 381.2 275.3 391.6 268.6 407.7 C 264.2 420 265.5 432.3 270.4 442.2 C 274.7 448.4 284 451.4 292 450.2" fill="none" stroke="#151515" stroke-width="0.69"/>
<path d="M 296.3 379.9 C 288.3 383.6 277.2 393.5 271 408.3 C 267.3 420.6 267.9 431.7 272.9 441 C 276.6 446.5 283.4 449 288.3 449" fill="none" stroke="#151515" stroke-width="0.69"/>
<path d="M 294.5 384.9 C 285.8 389.8 277.2 402.1 273.5 412 C 270.4 421.8 271 432.9 276 441 C 278.4 445.3 282.1 447.7 284.6 448" fill="none" stroke="#151515" stroke-width="0.8"/>
<path d="M 286.4 397.8 C 289.5 392.3 293.2 388.6 297.5 386.1 L 308.6 383.6 L 306.8 391 C 303.1 391 299.4 392.3 296.9 393.5 C 293.8 396 291.4 399.7 289.5 404 Z" fill="none" stroke="#151515" stroke-width="0.92"/>
<path d="M 292.6 404.6 C 294.5 401.5 296.9 399.7 299.4 398.4 L 304.3 399.7 L 301.2 407.7 Z" fill="none" stroke="#151515" stroke-width="0.92"/>
<path d="M 312.9 395.3 L 320.3 390.4 C 322.6 393.5 323.4 396.6 323.4 399.7 C 323.8 404.6 323.1 408.9 322.2 412 L 319.1 417.5 L 312.9 414.5 C 314.4 412 315.2 409.5 315.4 407.1 C 315.7 402.7 314.8 399 312.9 395.3 Z" fill="none" stroke="#151515" stroke-width="0.92"/>
<path d="M 308 402.7 C 310.5 405.2 311.1 407.7 311.1 409.5 L 309.2 415.7 L 303.7 412 Z" fill="none" stroke="#151515" stroke-width="0.92"/>
<path d="M 273.5 416.9 L 281.5 415.1 C 280.9 418.2 280.9 421.2 281.5 424.3 C 282.1 427.4 283.1 430.5 284.6 432.9 L 278.4 440.3 C 275.3 437.9 274.1 435.4 273.5 432.9 C 272.3 427.4 272.5 421.8 273.5 416.9 Z" fill="none" stroke="#151515" stroke-width="0.92"/>
<path d="M 284 416.3 L 290.8 421.8 L 285.8 429.2 C 284.3 425.5 283.6 420.6 284 416.3 Z" fill="none" stroke="#151515" stroke-width="0.92"/>
<path d="M 287.7 442.2 C 290.8 441 293.2 439.1 295.7 436.6 C 299.4 434.8 303.1 432.9 305.5 430.5 L 309.2 434.2 L 306.8 440.3 C 304.3 443.4 301.2 445.5 298.2 447.1 L 288.3 450.2 Z" fill="none" stroke="#151515" stroke-width="0.92"/>
<path d="M 295.7 425.5 L 302.5 424.3 L 304.9 429.2 C 302.5 431.7 299.4 432.9 296.9 433.6 L 292.6 432.3 Z" fill="none" stroke="#151515" stroke-width="0.92"/>
<path d="M 279 407.3 L 281.5 404.6 L 293.2 411.4 L 291 414.5 Z M 284.6 406.4 L 282.7 409.3" fill="#fff" stroke="#151515" stroke-width="0.92"/>
<path d="M 301.2 420 L 303.3 416.9 L 316 424.3 L 313.9 427.8 Z M 309.2 420.6 L 307.4 423.7" fill="#fff" stroke="#151515" stroke-width="0.92"/>
<path d="M 301.8 407.3 L 312.9 386.7 L 315.4 387.3 L 304.3 408.5 Z" fill="#fff" stroke="#151515" stroke-width="0.92"/>
<path d="M 292 423.7 L 280.3 445.5 L 282.7 446.3 L 294.7 424.6 Z" fill="#fff" stroke="#151515" stroke-width="0.92"/>
<path d="M 296.3 375.6 L 297.5 383.6 M 297.5 450.2 L 298.2 461.3" fill="none" stroke="#151515" stroke-width="0.8"/>
<ellipse cx="294.3" cy="572.5" rx="9.0" ry="14.6" transform="rotate(28 294.3 572.5)" fill="#fff" stroke="#151515" stroke-width="1.03"/>
<path d="M 293.9 588.4 L 287.4 585.4 L 301.2 559.6 L 307.7 562.6 Z" fill="#fff" stroke="none" stroke-width="0.0"/>
<path d="M 293.9 588.4 L 287.4 585.4 M 301.2 559.6 L 307.7 562.6" fill="none" stroke="#151515" stroke-width="1.03"/>
<ellipse cx="300.8" cy="575.5" rx="9.0" ry="14.6" transform="rotate(28 300.8 575.5)" fill="#fff" stroke="#151515" stroke-width="1.03"/>
<ellipse cx="301.1" cy="575.7" rx="7.7" ry="12.8" transform="rotate(28 301.1 575.7)" fill="#fff" stroke="#151515" stroke-width="0.57"/>
<ellipse cx="301.2" cy="575.8" rx="5.8" ry="9.9" transform="rotate(28 301.2 575.8)" fill="#fff" stroke="#0c0c0c" stroke-width="3.56"/>
<ellipse cx="301.4" cy="575.9" rx="2.7" ry="5.3" transform="rotate(28 301.4 575.9)" fill="#fff" stroke="#151515" stroke-width="0.57"/>
<ellipse cx="475.6" cy="682.2" rx="8.6" ry="13.6" transform="rotate(28 475.6 682.2)" fill="#fff" stroke="#151515" stroke-width="1.03"/>
<path d="M 476.1 697.5 L 469.2 694.2 L 482 670.2 L 488.9 673.5 Z" fill="#fff" stroke="none" stroke-width="0.0"/>
<path d="M 476.1 697.5 L 469.2 694.2 M 482 670.2 L 488.9 673.5" fill="none" stroke="#151515" stroke-width="1.03"/>
<ellipse cx="482.5" cy="685.5" rx="8.6" ry="13.6" transform="rotate(28 482.5 685.5)" fill="#fff" stroke="#151515" stroke-width="1.03"/>
<ellipse cx="482.8" cy="685.7" rx="7.4" ry="12.0" transform="rotate(28 482.8 685.7)" fill="#fff" stroke="#151515" stroke-width="0.57"/>
<ellipse cx="482.9" cy="685.8" rx="5.5" ry="9.2" transform="rotate(28 482.9 685.8)" fill="#fff" stroke="#0c0c0c" stroke-width="3.56"/>
<ellipse cx="483.1" cy="685.9" rx="2.6" ry="4.9" transform="rotate(28 483.1 685.9)" fill="#fff" stroke="#151515" stroke-width="0.57"/>
<ellipse cx="273.0" cy="559.7" rx="5.8" ry="9.3" transform="rotate(28 273.0 559.7)" fill="#fff" stroke="#151515" stroke-width="0.57"/>
<ellipse cx="273.8" cy="560.0" rx="5.8" ry="9.3" transform="rotate(28 273.8 560.0)" fill="#fff" stroke="#151515" stroke-width="1.03"/>
<ellipse cx="274.0" cy="560.4" rx="2.9" ry="5.2" transform="rotate(28 274.0 560.4)" fill="#fff" stroke="#151515" stroke-width="0.92"/>
<ellipse cx="134.2" cy="475.5" rx="6.6" ry="9.6" transform="rotate(25 134.2 475.5)" fill="#fff" stroke="#151515" stroke-width="0.57"/>
<ellipse cx="135.1" cy="475.9" rx="6.6" ry="9.6" transform="rotate(25 135.1 475.9)" fill="#fff" stroke="#151515" stroke-width="1.03"/>
<ellipse cx="135.3" cy="476.3" rx="1.8" ry="2.9" transform="rotate(25 135.3 476.3)" fill="#fff" stroke="#151515" stroke-width="0.92"/>
<path d="M 109.4 463.7 L 111.5 458.9 L 115.6 457.2 L 119.7 459.4 L 120.7 464.2 L 118.5 469 L 114.2 470.7 L 110.3 468.3 Z" fill="#fff" stroke="#151515" stroke-width="1.03"/>
<path d="M 111.5 458.9 L 112.7 460.8 L 116.6 459.4 L 119.7 459.4 M 112.7 460.8 L 110.8 465.6 L 110.3 468.3 M 110.8 465.6 L 114.7 468.5 L 118.5 469 M 114.7 468.5 L 114.2 470.7" fill="none" stroke="#151515" stroke-width="0.57"/>
<ellipse cx="115.4" cy="464.5" rx="2.1" ry="2.9" transform="rotate(25 115.4 464.5)" fill="none" stroke="#151515" stroke-width="0.92"/>
<ellipse cx="115.7" cy="464.8" rx="1.2" ry="1.9" transform="rotate(25 115.7 464.8)" fill="none" stroke="#151515" stroke-width="0.69"/>
<path d="M 210.2 481.2 C 211.2 470.7 209.2 461.1 204.5 452.7 L 206.8 451.5 L 230.3 461.5 L 230.3 468.8" fill="none" stroke="#151515" stroke-width="0.92"/>
<path d="M 206.8 451.5 C 211.2 459.2 212.5 468.8 212.1 479.3" fill="none" stroke="#151515" stroke-width="0.57"/>
<path d="M 230.3 466.8 L 230.9 457.6 L 233.6 455 L 252.4 464.5 M 230.9 457.6 L 249.5 465.9" fill="none" stroke="#151515" stroke-width="0.92"/>
<path d="M 202.5 492.7 L 173.8 477.8 L 175.7 475.5 L 183.4 474.9 L 206.8 485.6 M 175.7 475.5 L 204.5 488.9" fill="none" stroke="#151515" stroke-width="0.92"/>
<path d="M 181.4 532.1 L 152.7 520.2 L 153.1 517.7 C 158.4 509 166.1 502.3 173.8 499.5 L 193.9 501.8 M 153.1 517.7 L 183.4 529.2" fill="none" stroke="#151515" stroke-width="0.92"/>
<path d="M 173.8 499.5 C 168 504.2 161.3 512.9 156.9 519.6" fill="none" stroke="#666" stroke-width="0.46"/>
<path d="M 179.1 572.3 L 151.7 559.9 L 152.3 557.4 C 153.6 547.4 156.5 537.8 161.3 530.1 L 180.5 537.8 M 152.3 557.4 L 179.5 569.5" fill="none" stroke="#151515" stroke-width="0.92"/>
<path d="M 161.3 530.1 C 158.4 539.7 155.5 549.3 155 558.5" fill="none" stroke="#666" stroke-width="0.46"/>
<path d="M 171.8 571.9 L 171.3 578.5 L 181.8 583.5 M 171.3 578.5 L 173.8 575" fill="none" stroke="#151515" stroke-width="0.92"/>
<ellipse cx="224.4" cy="529.0" rx="41.6" ry="68.7" transform="rotate(23.7 224.4 529.0)" fill="#fff" stroke="#151515" stroke-width="0.92"/>
<ellipse cx="226.6" cy="530.0" rx="41.6" ry="68.7" transform="rotate(23.7 226.6 530.0)" fill="#fff" stroke="#151515" stroke-width="1.03"/>
<ellipse cx="227.8" cy="533.0" rx="26.8" ry="43.7" transform="rotate(23.7 227.8 533.0)" fill="none" stroke="#444" stroke-width="0.57"/>
<ellipse cx="230.9" cy="533.6" rx="9.6" ry="11.9" transform="rotate(23 230.9 533.6)" fill="#fff" stroke="#444" stroke-width="0.57"/>
<ellipse cx="232.3" cy="534.0" rx="8.4" ry="10.7" transform="rotate(23 232.3 534.0)" fill="#fff" stroke="#151515" stroke-width="1.03"/>
<ellipse cx="233.6" cy="534.5" rx="6.5" ry="8.4" transform="rotate(23 233.6 534.5)" fill="#fff" stroke="#151515" stroke-width="0.8"/>
<ellipse cx="234.8" cy="535.1" rx="4.6" ry="6.1" transform="rotate(23 234.8 535.1)" fill="#fff" stroke="#151515" stroke-width="0.92"/>
<path d="M 235.1 522.1 L 237.1 524.4 M 222.7 543.6 L 226.5 544.5" fill="none" stroke="#151515" stroke-width="0.69"/>
<path d="M 316 590.4 L 315.8 590.2 L 315.6 589.9 L 315.5 589.6 L 315.4 589.1 L 315.4 588.7 L 315.5 588.2 L 315.6 587.6 L 315.9 587.1 L 316.1 586.6 L 316.4 586.2 L 316.8 585.7 L 317.1 585.3 L 317.5 585 L 317.9 584.8 L 318.3 584.6 L 318.7 584.6 L 319 584.6 L 319.3 584.7 L 326.5 588.9 L 323.2 594.6 Z" fill="#fff" stroke="none" stroke-width="0.0"/>
<path d="M 316 590.4 L 315.8 590.2 L 315.6 589.9 L 315.5 589.6 L 315.4 589.1 L 315.4 588.7 L 315.5 588.2 L 315.6 587.6 L 315.9 587.1 L 316.1 586.6 L 316.4 586.2 L 316.8 585.7 L 317.1 585.3 L 317.5 585 L 317.9 584.8 L 318.3 584.6 L 318.7 584.6 L 319 584.6 L 319.3 584.7" fill="none" stroke="#1a1a1a" stroke-width="0.92"/>
<path d="M 319.3 584.7 L 326.5 588.9 M 316 590.4 L 323.2 594.6" fill="none" stroke="#151515" stroke-width="0.92"/>
<ellipse cx="324.9" cy="591.7" rx="1.8" ry="3.3" transform="rotate(30.2 324.9 591.7)" fill="#fff" stroke="#1a1a1a" stroke-width="0.92"/>
<path d="M 322.6 595.7 L 322.2 595.4 L 321.9 595 L 321.8 594.5 L 321.7 594 L 321.7 593.3 L 321.8 592.6 L 322 591.9 L 322.3 591.2 L 322.7 590.4 L 323.1 589.8 L 323.6 589.2 L 324.1 588.6 L 324.7 588.2 L 325.2 587.9 L 325.8 587.6 L 326.3 587.6 L 326.8 587.6 L 327.2 587.8 L 357.9 605.6 L 353.2 613.6 Z" fill="#fff" stroke="none" stroke-width="0.0"/>
<path d="M 322.6 595.7 L 322.2 595.4 L 321.9 595 L 321.8 594.5 L 321.7 594 L 321.7 593.3 L 321.8 592.6 L 322 591.9 L 322.3 591.2 L 322.7 590.4 L 323.1 589.8 L 323.6 589.2 L 324.1 588.6 L 324.7 588.2 L 325.2 587.9 L 325.8 587.6 L 326.3 587.6 L 326.8 587.6 L 327.2 587.8" fill="none" stroke="#1a1a1a" stroke-width="0.92"/>
<path d="M 327.2 587.8 L 357.9 605.6 M 322.6 595.7 L 353.2 613.6" fill="none" stroke="#151515" stroke-width="0.92"/>
<path d="M 326.4 594.5 L 331.3 597.2 L 331.3 600.7 M 326.4 594.5 L 325.8 597.4" fill="none" stroke="#151515" stroke-width="0.69"/>
<path d="M 343.3 608.8 L 342.9 608.5 L 342.6 608 L 342.4 607.4 L 342.3 606.7 L 342.3 605.9 L 342.5 605.1 L 342.7 604.3 L 343.1 603.4 L 343.5 602.5 L 344 601.8 L 344.6 601 L 345.2 600.4 L 345.9 599.9 L 346.5 599.5 L 347.2 599.2 L 347.8 599.1 L 348.4 599.2 L 348.8 599.3 L 361.2 606.5 L 355.6 616 Z" fill="#fff" stroke="none" stroke-width="0.0"/>
<path d="M 343.3 608.8 L 342.9 608.5 L 342.6 608 L 342.4 607.4 L 342.3 606.7 L 342.3 605.9 L 342.5 605.1 L 342.7 604.3 L 343.1 603.4 L 343.5 602.5 L 344 601.8 L 344.6 601 L 345.2 600.4 L 345.9 599.9 L 346.5 599.5 L 347.2 599.2 L 347.8 599.1 L 348.4 599.2 L 348.8 599.3" fill="none" stroke="#1a1a1a" stroke-width="0.92"/>
<path d="M 348.8 599.3 L 361.2 606.5 M 343.3 608.8 L 355.6 616" fill="none" stroke="#151515" stroke-width="0.92"/>
<ellipse cx="358.4" cy="611.2" rx="3.0" ry="5.5" transform="rotate(30.2 358.4 611.2)" fill="#fff" stroke="#1a1a1a" stroke-width="0.92"/>
<path d="M 352.8 616.6 L 352.2 616.1 L 351.8 615.5 L 351.5 614.7 L 351.4 613.7 L 351.4 612.7 L 351.6 611.6 L 351.9 610.4 L 352.4 609.2 L 353 608.1 L 353.7 607 L 354.4 606 L 355.3 605.1 L 356.2 604.4 L 357.1 603.9 L 358 603.5 L 358.8 603.4 L 359.6 603.4 L 360.3 603.7 L 364.6 606.2 L 357.1 619.1 Z" fill="#fff" stroke="none" stroke-width="0.0"/>
<path d="M 352.8 616.6 L 352.2 616.1 L 351.8 615.5 L 351.5 614.7 L 351.4 613.7 L 351.4 612.7 L 351.6 611.6 L 351.9 610.4 L 352.4 609.2 L 353 608.1 L 353.7 607 L 354.4 606 L 355.3 605.1 L 356.2 604.4 L 357.1 603.9 L 358 603.5 L 358.8 603.4 L 359.6 603.4 L 360.3 603.7" fill="none" stroke="#1a1a1a" stroke-width="0.92"/>
<path d="M 360.3 603.7 L 364.6 606.2 M 352.8 616.6 L 357.1 619.1" fill="none" stroke="#151515" stroke-width="0.92"/>
<ellipse cx="360.9" cy="612.7" rx="4.1" ry="7.5" transform="rotate(30.2 360.9 612.7)" fill="#fff" stroke="#1a1a1a" stroke-width="0.92"/>
<path d="M 355.1 633.7 L 353.6 632.5 L 352.5 630.8 L 351.8 628.7 L 351.4 626.2 L 351.5 623.4 L 352 620.4 L 352.8 617.3 L 354.1 614.2 L 355.7 611.2 L 357.5 608.3 L 359.6 605.7 L 361.9 603.4 L 364.2 601.5 L 366.6 600.1 L 368.9 599.1 L 371.2 598.7 L 373.2 598.9 L 374.9 599.6 L 423.2 626.4 L 402.3 662.4 Z" fill="#fff" stroke="none" stroke-width="0.0"/>
<path d="M 355.1 633.7 L 353.6 632.5 L 352.5 630.8 L 351.8 628.7 L 351.4 626.2 L 351.5 623.4 L 352 620.4 L 352.8 617.3 L 354.1 614.2 L 355.7 611.2 L 357.5 608.3 L 359.6 605.7 L 361.9 603.4 L 364.2 601.5 L 366.6 600.1 L 368.9 599.1 L 371.2 598.7 L 373.2 598.9 L 374.9 599.6" fill="none" stroke="#1a1a1a" stroke-width="0.92"/>
<path d="M 374.9 599.6 L 423.2 626.4 M 355.1 633.7 L 402.3 662.4" fill="none" stroke="#151515" stroke-width="0.92"/>
<path d="M 355.1 631.6 L 354 630 L 353.4 628.1 L 353 625.8 L 353.1 623.2 L 353.5 620.5 L 354.3 617.6 L 355.5 614.7 L 356.9 611.9 L 358.7 609.3 L 360.6 606.9 L 362.7 604.7 L 364.9 603 L 367.1 601.7 L 369.2 600.8 L 371.2 600.5 L 373.1 600.6" fill="none" stroke="#1a1a1a" stroke-width="0.57"/>
<path d="M 371 599.6 L 413.2 623.3" fill="none" stroke="#151515" stroke-width="0.92"/>
<path d="M 374.3 599.5 L 416.7 623.2" fill="none" stroke="#151515" stroke-width="0.92"/>
<ellipse cx="415.0" cy="623.1" rx="1.3" ry="2.2" transform="rotate(30 415.0 623.1)" fill="#fff" stroke="#151515" stroke-width="0.8"/>
<ellipse cx="373.5" cy="599.8" rx="0.9" ry="1.5" transform="rotate(30 373.5 599.8)" fill="none" stroke="#151515" stroke-width="0.57"/>
<path d="M 365.4 602.2 L 406.8 625.6" fill="none" stroke="#151515" stroke-width="0.92"/>
<path d="M 369.2 600.1 L 410.8 623.5" fill="none" stroke="#151515" stroke-width="0.92"/>
<ellipse cx="408.8" cy="624.4" rx="1.3" ry="2.2" transform="rotate(30 408.8 624.4)" fill="#fff" stroke="#151515" stroke-width="0.8"/>
<ellipse cx="368.0" cy="601.4" rx="0.9" ry="1.5" transform="rotate(30 368.0 601.4)" fill="none" stroke="#151515" stroke-width="0.57"/>
<path d="M 359.9 607.3 L 400.6 630.8" fill="none" stroke="#151515" stroke-width="0.92"/>
<path d="M 363.5 603.6 L 404.3 626.9" fill="none" stroke="#151515" stroke-width="0.92"/>
<ellipse cx="402.4" cy="628.7" rx="1.3" ry="2.2" transform="rotate(30 402.4 628.7)" fill="#fff" stroke="#151515" stroke-width="0.8"/>
<ellipse cx="362.4" cy="605.8" rx="0.9" ry="1.5" transform="rotate(30 362.4 605.8)" fill="none" stroke="#151515" stroke-width="0.57"/>
<path d="M 355.5 614.3 L 395.4 637.7" fill="none" stroke="#151515" stroke-width="0.92"/>
<path d="M 358.3 609.5 L 398.3 632.7" fill="none" stroke="#151515" stroke-width="0.92"/>
<ellipse cx="396.8" cy="635.1" rx="1.3" ry="2.2" transform="rotate(30 396.8 635.1)" fill="#fff" stroke="#151515" stroke-width="0.8"/>
<ellipse cx="357.5" cy="612.3" rx="0.9" ry="1.5" transform="rotate(30 357.5 612.3)" fill="none" stroke="#151515" stroke-width="0.57"/>
<path d="M 353 621.7 L 392.2 645.1" fill="none" stroke="#151515" stroke-width="0.92"/>
<path d="M 354.4 616.8 L 393.8 639.9" fill="none" stroke="#151515" stroke-width="0.92"/>
<ellipse cx="392.9" cy="642.5" rx="1.3" ry="2.2" transform="rotate(30 392.9 642.5)" fill="#fff" stroke="#151515" stroke-width="0.8"/>
<ellipse cx="354.3" cy="619.7" rx="0.9" ry="1.5" transform="rotate(30 354.3 619.7)" fill="none" stroke="#151515" stroke-width="0.57"/>
<path d="M 352.7 628.4 L 391.4 651.8" fill="none" stroke="#151515" stroke-width="0.92"/>
<path d="M 352.6 624.1 L 391.3 647.3" fill="none" stroke="#151515" stroke-width="0.92"/>
<ellipse cx="391.2" cy="649.6" rx="1.3" ry="2.2" transform="rotate(30 391.2 649.6)" fill="#fff" stroke="#151515" stroke-width="0.8"/>
<ellipse cx="353.3" cy="626.8" rx="0.9" ry="1.5" transform="rotate(30 353.3 626.8)" fill="none" stroke="#151515" stroke-width="0.57"/>
<path d="M 354.8 633.1 L 393 656.4" fill="none" stroke="#151515" stroke-width="0.92"/>
<path d="M 353.1 630.2 L 391.3 653.4" fill="none" stroke="#151515" stroke-width="0.92"/>
<ellipse cx="392.1" cy="655.0" rx="1.3" ry="2.2" transform="rotate(30 392.1 655.0)" fill="#fff" stroke="#151515" stroke-width="0.8"/>
<ellipse cx="354.6" cy="632.3" rx="0.9" ry="1.5" transform="rotate(30 354.6 632.3)" fill="none" stroke="#151515" stroke-width="0.57"/>
<path d="M 402.3 662.4 L 400.7 661.1 L 399.5 659.4 L 398.7 657.1 L 398.4 654.5 L 398.5 651.6 L 399 648.4 L 399.9 645.2 L 401.2 641.9 L 402.9 638.6 L 404.8 635.6 L 407.1 632.8 L 409.4 630.4 L 411.9 628.4 L 414.4 626.9 L 416.9 626 L 419.2 625.5 L 421.4 625.7 L 423.2 626.4 L 439 638.6 L 420.7 670.1 Z" fill="#fff" stroke="none" stroke-width="0.0"/>
<path d="M 402.3 662.4 L 400.7 661.1 L 399.5 659.4 L 398.7 657.1 L 398.4 654.5 L 398.5 651.6 L 399 648.4 L 399.9 645.2 L 401.2 641.9 L 402.9 638.6 L 404.8 635.6 L 407.1 632.8 L 409.4 630.4 L 411.9 628.4 L 414.4 626.9 L 416.9 626 L 419.2 625.5 L 421.4 625.7 L 423.2 626.4" fill="none" stroke="#1a1a1a" stroke-width="0.8"/>
<path d="M 423.2 626.4 L 439 638.6 M 402.3 662.4 L 420.7 670.1" fill="none" stroke="#151515" stroke-width="0.8"/>
<path d="M 402.1 661.4 L 416.3 665.6 M 409.2 664.2 L 419.5 669.6" fill="none" stroke="#333" stroke-width="0.52"/>
<path d="M 400.4 658.2 L 415.8 661.7 M 407.7 660.8 L 417.3 667.6" fill="none" stroke="#333" stroke-width="0.52"/>
<path d="M 399.8 653.8 L 416.3 657.1 M 407.4 656.4 L 416 664.4" fill="none" stroke="#333" stroke-width="0.52"/>
<path d="M 400.5 648.7 L 417.9 652.2 M 408.4 651.4 L 415.8 660.2" fill="none" stroke="#333" stroke-width="0.52"/>
<path d="M 402.3 643.2 L 420.4 647.4 M 410.4 646.2 L 416.7 655.4" fill="none" stroke="#333" stroke-width="0.52"/>
<path d="M 405.1 637.9 L 423.6 643.1 M 413.3 641.2 L 418.7 650.4" fill="none" stroke="#333" stroke-width="0.52"/>
<path d="M 408.8 633.3 L 427.3 639.8 M 416.9 636.9 L 421.5 645.8" fill="none" stroke="#333" stroke-width="0.52"/>
<path d="M 412.8 629.6 L 431.1 637.6 M 420.8 633.7 L 424.9 641.8" fill="none" stroke="#333" stroke-width="0.52"/>
<path d="M 417 627.3 L 434.6 636.8 M 424.8 631.9 L 428.6 638.8" fill="none" stroke="#333" stroke-width="0.52"/>
<path d="M 420.9 626.6 L 437.6 637.6 M 428.4 631.5 L 432.3 637.2" fill="none" stroke="#333" stroke-width="0.52"/>
<path d="M 419.9 669.6 L 418.5 668.5 L 417.5 666.9 L 416.8 665 L 416.5 662.7 L 416.5 660.1 L 417 657.4 L 417.8 654.5 L 419 651.7 L 420.4 648.9 L 422.1 646.2 L 424.1 643.8 L 426.1 641.7 L 428.3 639.9 L 430.5 638.6 L 432.7 637.8 L 434.7 637.4 L 436.6 637.5 L 438.2 638.2 L 441.6 640.2 L 423.3 671.6 Z" fill="#fff" stroke="none" stroke-width="0.0"/>
<path d="M 419.9 669.6 L 418.5 668.5 L 417.5 666.9 L 416.8 665 L 416.5 662.7 L 416.5 660.1 L 417 657.4 L 417.8 654.5 L 419 651.7 L 420.4 648.9 L 422.1 646.2 L 424.1 643.8 L 426.1 641.7 L 428.3 639.9 L 430.5 638.6 L 432.7 637.8 L 434.7 637.4 L 436.6 637.5 L 438.2 638.2" fill="none" stroke="#1a1a1a" stroke-width="0.92"/>
<path d="M 438.2 638.2 L 441.6 640.2 M 419.9 669.6 L 423.3 671.6" fill="none" stroke="#151515" stroke-width="0.92"/>
<path d="M 419.2 669.1 L 422.6 671.1" fill="none" stroke="#1a1a1a" stroke-width="0.57"/>
<path d="M 418.1 667.9 L 421.5 669.9" fill="none" stroke="#1a1a1a" stroke-width="0.57"/>
<path d="M 417.2 666.4 L 420.7 668.4" fill="none" stroke="#1a1a1a" stroke-width="0.57"/>
<path d="M 416.7 664.6 L 420.1 666.5" fill="none" stroke="#1a1a1a" stroke-width="0.57"/>
<path d="M 416.5 662.4 L 419.9 664.4" fill="none" stroke="#1a1a1a" stroke-width="0.57"/>
<path d="M 416.5 660.1 L 420 662.1" fill="none" stroke="#1a1a1a" stroke-width="0.57"/>
<path d="M 416.9 657.7 L 420.3 659.7" fill="none" stroke="#1a1a1a" stroke-width="0.57"/>
<path d="M 417.6 655.1 L 421 657.1" fill="none" stroke="#1a1a1a" stroke-width="0.57"/>
<path d="M 418.6 652.5 L 422 654.5" fill="none" stroke="#1a1a1a" stroke-width="0.57"/>
<path d="M 419.8 650 L 423.2 652" fill="none" stroke="#1a1a1a" stroke-width="0.57"/>
<path d="M 421.2 647.5 L 424.7 649.5" fill="none" stroke="#1a1a1a" stroke-width="0.57"/>
<path d="M 422.9 645.2 L 426.3 647.2" fill="none" stroke="#1a1a1a" stroke-width="0.57"/>
<path d="M 424.7 643.1 L 428.1 645.1" fill="none" stroke="#1a1a1a" stroke-width="0.57"/>
<path d="M 426.6 641.3 L 430 643.3" fill="none" stroke="#1a1a1a" stroke-width="0.57"/>
<path d="M 428.5 639.8 L 432 641.8" fill="none" stroke="#1a1a1a" stroke-width="0.57"/>
<path d="M 430.5 638.6 L 433.9 640.6" fill="none" stroke="#1a1a1a" stroke-width="0.57"/>
<path d="M 432.5 637.8 L 435.9 639.8" fill="none" stroke="#1a1a1a" stroke-width="0.57"/>
<path d="M 434.3 637.4 L 437.7 639.4" fill="none" stroke="#1a1a1a" stroke-width="0.57"/>
<path d="M 436 637.4 L 439.4 639.4" fill="none" stroke="#1a1a1a" stroke-width="0.57"/>
<path d="M 437.6 637.9 L 441 639.9" fill="none" stroke="#1a1a1a" stroke-width="0.57"/>
<path d="M 421.6 670.6 L 420.2 669.5 L 419.2 668 L 418.5 666 L 418.2 663.7 L 418.3 661.1 L 418.7 658.4 L 419.5 655.5 L 420.7 652.7 L 422.1 649.8 L 423.8 647.2 L 425.8 644.8 L 427.9 642.7 L 430 640.9 L 432.2 639.6 L 434.4 638.8 L 436.4 638.4 L 438.3 638.5 L 439.9 639.2" fill="none" stroke="#1a1a1a" stroke-width="0.57"/>
<path d="M 425.5 667.8 L 424.5 667 L 423.7 665.8 L 423.2 664.3 L 422.9 662.6 L 423 660.6 L 423.3 658.5 L 423.9 656.4 L 424.8 654.2 L 425.9 652.1 L 427.2 650 L 428.7 648.2 L 430.3 646.6 L 431.9 645.3 L 433.6 644.3 L 435.2 643.6 L 436.8 643.4 L 438.2 643.5 L 439.4 644 L 454.2 652.5 L 440.3 676.4 Z" fill="#fff" stroke="none" stroke-width="0.0"/>
<path d="M 425.5 667.8 L 424.5 667 L 423.7 665.8 L 423.2 664.3 L 422.9 662.6 L 423 660.6 L 423.3 658.5 L 423.9 656.4 L 424.8 654.2 L 425.9 652.1 L 427.2 650 L 428.7 648.2 L 430.3 646.6 L 431.9 645.3 L 433.6 644.3 L 435.2 643.6 L 436.8 643.4 L 438.2 643.5 L 439.4 644" fill="none" stroke="#1a1a1a" stroke-width="0.92"/>
<path d="M 439.4 644 L 454.2 652.5 M 425.5 667.8 L 440.3 676.4" fill="none" stroke="#151515" stroke-width="0.92"/>
<path d="M 425 667.4 L 439.1 675.6" fill="none" stroke="#1a1a1a" stroke-width="0.57"/>
<path d="M 424.1 666 L 438.1 674.2" fill="none" stroke="#1a1a1a" stroke-width="0.57"/>
<path d="M 423.5 664.2 L 437.5 672.4" fill="none" stroke="#1a1a1a" stroke-width="0.57"/>
<path d="M 423.3 662 L 437.3 670.2" fill="none" stroke="#1a1a1a" stroke-width="0.57"/>
<path d="M 423.5 659.6 L 437.5 667.8" fill="none" stroke="#1a1a1a" stroke-width="0.57"/>
<path d="M 424.1 657 L 438.2 665.2" fill="none" stroke="#1a1a1a" stroke-width="0.57"/>
<path d="M 425.2 654.4 L 439.2 662.6" fill="none" stroke="#1a1a1a" stroke-width="0.57"/>
<path d="M 426.5 651.9 L 440.5 660" fill="none" stroke="#1a1a1a" stroke-width="0.57"/>
<path d="M 428.2 649.5 L 442.2 657.7" fill="none" stroke="#1a1a1a" stroke-width="0.57"/>
<path d="M 430 647.4 L 444 655.6" fill="none" stroke="#1a1a1a" stroke-width="0.57"/>
<path d="M 432 645.7 L 446 653.9" fill="none" stroke="#1a1a1a" stroke-width="0.57"/>
<path d="M 433.9 644.5 L 448 652.7" fill="none" stroke="#1a1a1a" stroke-width="0.57"/>
<path d="M 435.9 643.8 L 449.9 651.9" fill="none" stroke="#1a1a1a" stroke-width="0.57"/>
<path d="M 437.7 643.6 L 451.7 651.7" fill="none" stroke="#1a1a1a" stroke-width="0.57"/>
<path d="M 439.3 643.9 L 453.3 652.1" fill="none" stroke="#1a1a1a" stroke-width="0.57"/>
<ellipse cx="447.2" cy="664.5" rx="7.6" ry="13.8" transform="rotate(30.2 447.2 664.5)" fill="#fff" stroke="#1a1a1a" stroke-width="0.92"/>
<ellipse cx="447.6" cy="664.7" rx="6.6" ry="12.1" transform="rotate(30.2 447.6 664.7)" fill="#fff" stroke="#1a1a1a" stroke-width="0.57"/>
<path d="M 442.7 673.2 L 441.9 672.6 L 441.4 671.8 L 441 670.7 L 440.8 669.5 L 440.8 668.1 L 441.1 666.6 L 441.5 665.1 L 442.1 663.5 L 442.9 662 L 443.9 660.5 L 444.9 659.2 L 446 658.1 L 447.2 657.1 L 448.4 656.4 L 449.6 656 L 450.7 655.8 L 451.7 655.8 L 452.6 656.2 L 454.1 657.1 L 444.2 674.1 Z" fill="#fff" stroke="none" stroke-width="0.0"/>
<path d="M 442.7 673.2 L 441.9 672.6 L 441.4 671.8 L 441 670.7 L 440.8 669.5 L 440.8 668.1 L 441.1 666.6 L 441.5 665.1 L 442.1 663.5 L 442.9 662 L 443.9 660.5 L 444.9 659.2 L 446 658.1 L 447.2 657.1 L 448.4 656.4 L 449.6 656 L 450.7 655.8 L 451.7 655.8 L 452.6 656.2" fill="none" stroke="#1a1a1a" stroke-width="0.92"/>
<path d="M 452.6 656.2 L 454.1 657.1 M 442.7 673.2 L 444.2 674.1" fill="none" stroke="#151515" stroke-width="0.92"/>
<ellipse cx="449.1" cy="665.6" rx="5.4" ry="9.9" transform="rotate(30.2 449.1 665.6)" fill="#fff" stroke="#1a1a1a" stroke-width="0.92"/>
<path d="M 446 670.9 L 445.6 670.5 L 445.2 670 L 445 669.3 L 444.9 668.6 L 444.9 667.7 L 445.1 666.8 L 445.3 665.8 L 445.7 664.8 L 446.2 663.9 L 446.8 663 L 447.4 662.2 L 448.1 661.5 L 448.9 660.9 L 449.6 660.4 L 450.3 660.1 L 451 660 L 451.7 660.1 L 452.2 660.3 L 457.5 663.4 L 451.3 674 Z" fill="#fff" stroke="none" stroke-width="0.0"/>
<path d="M 446 670.9 L 445.6 670.5 L 445.2 670 L 445 669.3 L 444.9 668.6 L 444.9 667.7 L 445.1 666.8 L 445.3 665.8 L 445.7 664.8 L 446.2 663.9 L 446.8 663 L 447.4 662.2 L 448.1 661.5 L 448.9 660.9 L 449.6 660.4 L 450.3 660.1 L 451 660 L 451.7 660.1 L 452.2 660.3" fill="none" stroke="#1a1a1a" stroke-width="0.92"/>
<path d="M 452.2 660.3 L 457.5 663.4 M 446 670.9 L 451.3 674" fill="none" stroke="#151515" stroke-width="0.92"/>
<ellipse cx="454.4" cy="668.7" rx="3.4" ry="6.1" transform="rotate(30.2 454.4 668.7)" fill="#fff" stroke="#1a1a1a" stroke-width="0.92"/>
<path d="M 451.9 673 L 451.5 672.7 L 451.2 672.3 L 451 671.7 L 451 671.1 L 451 670.4 L 451.1 669.6 L 451.3 668.8 L 451.6 668.1 L 452 667.3 L 452.5 666.5 L 453.1 665.9 L 453.6 665.3 L 454.2 664.8 L 454.8 664.4 L 455.4 664.2 L 456 664.1 L 456.5 664.1 L 457 664.3 L 461.9 667.2 L 456.8 675.9 Z" fill="#fff" stroke="none" stroke-width="0.0"/>
<path d="M 451.9 673 L 451.5 672.7 L 451.2 672.3 L 451 671.7 L 451 671.1 L 451 670.4 L 451.1 669.6 L 451.3 668.8 L 451.6 668.1 L 452 667.3 L 452.5 666.5 L 453.1 665.9 L 453.6 665.3 L 454.2 664.8 L 454.8 664.4 L 455.4 664.2 L 456 664.1 L 456.5 664.1 L 457 664.3" fill="none" stroke="#1a1a1a" stroke-width="0.92"/>
<path d="M 457 664.3 L 461.9 667.2 M 451.9 673 L 456.8 675.9" fill="none" stroke="#151515" stroke-width="0.92"/>
<ellipse cx="459.4" cy="671.5" rx="2.8" ry="5.0" transform="rotate(30.2 459.4 671.5)" fill="#fff" stroke="#1a1a1a" stroke-width="0.92"/>
<path d="M515.3 691.9 C513.9 692.3 508.5 693.3 506.4 694.0 C504.4 694.7 504.4 694.5 503.0 696.0 C501.6 697.5 499.6 700.1 498.2 702.9 C496.8 705.6 495.6 709.3 494.8 712.5 C494.0 715.7 493.5 719.1 493.4 722.1 C493.3 725.0 493.5 727.8 494.1 730.3 C494.7 732.8 495.3 735.3 496.8 737.1 C498.4 738.9 501.9 740.4 503.7 741.2 C505.5 742.0 507.1 741.8 507.8 741.9" fill="none" stroke="#151515" stroke-width="1.15"/>
<path d="M503.0 696.0 C503.8 696.3 507.5 695.8 507.8 697.4 C508.2 699.0 505.9 702.4 505.1 705.6 C504.3 708.8 503.2 712.9 503.0 716.6 C502.8 720.2 503.1 724.6 503.7 727.5 C504.3 730.5 505.8 732.0 506.4 734.4 C507.1 736.8 507.6 740.7 507.8 741.9" fill="none" stroke="#151515" stroke-width="0.92"/>
<path d="M507.8 697.4 C508.5 697.7 511.7 697.4 511.9 699.5 C512.1 701.5 509.9 706.9 509.2 709.7 C508.5 712.6 508.0 715.4 507.8 716.6" fill="none" stroke="#151515" stroke-width="0.8"/>
<path d="M 506.4 694 L 507.1 697.4 L 509.2 699.5 L 511.9 696 M 498.2 702.9 C 496.8 709.7 496.2 717.9 496.8 724.8" fill="none" stroke="#151515" stroke-width="0.69"/>
<path d="M507.8 715.9 C508.3 713.7 508.9 706.9 510.5 702.9 C512.1 698.9 514.7 695.2 517.4 691.9 C520.1 688.6 524.0 685.3 527.0 683.0 C530.0 680.8 533.8 679.2 535.2 678.5" fill="none" stroke="#151515" stroke-width="1.03"/>
<path d="M 528.4 682.1 L 531.1 678.9 L 537.3 676.8 L 590.7 706.3" fill="none" stroke="#151515" stroke-width="1.03"/>
<path d="M 537.3 676.8 L 538.2 678.5 M 531.1 678.9 L 532.5 680.7" fill="none" stroke="#151515" stroke-width="0.69"/>
<path d="M 507.8 715.9 L 547.5 739.2 M 508.5 718.6 L 548.2 741.9 M 507.8 721.4 L 546.2 744" fill="none" stroke="#151515" stroke-width="0.92"/>
<path d="M 505.8 730.3 L 544.8 752.2 M 508.5 733 L 545.5 754.9 M 507.8 735.8 L 542.1 757.7" fill="none" stroke="#151515" stroke-width="0.92"/>
<path d="M 507.8 741.9 L 537.3 759 L 550.3 770.7" fill="none" stroke="#151515" stroke-width="1.03"/>
<path d="M 507.8 721.4 L 505.8 730.3 M 505.1 734.4 L 505.8 730.3 M 546.2 744 L 544.8 752.2" fill="none" stroke="#151515" stroke-width="0.69"/>
<path d="M 511.9 739.2 L 536.6 753.6" fill="none" stroke="#3a3a3a" stroke-width="0.57"/>
<path d="M577.7 702.9 C575.8 703.8 570.1 705.8 566.7 708.4 C563.3 710.9 559.9 714.3 557.1 717.9 C554.4 721.6 551.9 726.4 550.3 730.3 C548.7 734.2 548.2 737.1 547.5 741.2 C546.8 745.3 546.2 750.0 546.2 754.9 C546.2 759.8 547.3 768.1 547.5 770.7" fill="none" stroke="#151515" stroke-width="1.03"/>
<path d="M580.4 704.2 C578.6 705.2 572.9 707.2 569.5 709.7 C566.0 712.2 562.6 715.7 559.9 719.3 C557.1 723.0 554.6 727.5 553.0 731.6 C551.4 735.8 550.7 741.9 550.3 744.0" fill="none" stroke="#151515" stroke-width="0.8"/>
<path d="M547.1 756.2 C547.1 757.8 546.6 763.5 547.1 765.8 C547.7 768.1 547.9 768.3 550.5 769.9 C553.2 771.5 559.5 774.7 562.9 775.4 C566.3 776.1 568.8 775.2 571.1 774.0 C573.4 772.9 575.7 769.5 576.6 768.6" fill="none" stroke="#151515" stroke-width="1.03"/>
<path d="M549.2 742.5 C550.3 740.5 554.2 732.9 556.0 730.2 C557.9 727.5 557.6 726.6 560.1 726.1 C562.6 725.6 568.6 726.8 571.1 727.5 C573.6 728.2 574.2 728.8 575.2 730.2 C576.2 731.6 577.3 733.6 577.3 735.7 C577.3 737.7 576.2 740.5 575.2 742.5 C574.2 744.6 571.9 745.7 571.1 748.0 C570.3 750.3 570.4 753.9 570.4 756.2 C570.4 758.5 571.2 759.9 571.1 761.7 C571.0 763.5 571.1 765.0 569.7 767.2 C568.4 769.4 564.0 773.5 562.9 774.7" fill="none" stroke="#151515" stroke-width="1.03"/>
<path d="M557.4 728.8 C558.3 729.1 560.8 729.6 562.9 730.2 C564.9 730.8 568.1 731.1 569.7 732.3 C571.3 733.4 572.5 734.9 572.5 737.1 C572.5 739.2 570.8 742.5 569.7 745.3 C568.6 748.0 566.5 752.1 565.9 753.5" fill="none" stroke="#151515" stroke-width="0.69"/>
<path d="M 549.2 742.5 L 550.5 745.3 L 561.5 748 L 567 743.9 L 572.5 737.1 M 561.5 748 L 560.1 761.7 L 562.9 764.5 L 560.8 769.9 L 562.9 774.7" fill="none" stroke="#151515" stroke-width="0.8"/>
<path d="M 560.1 756.2 L 562.9 755.5 L 563.6 759 L 560.8 759.7" fill="none" stroke="#151515" stroke-width="0.69"/>
<ellipse cx="569.7" cy="712.4" rx="1.4" ry="2.3" transform="rotate(25 569.7 712.4)" fill="none" stroke="#151515" stroke-width="0.8"/>
<path d="M 559.5 719.2 L 562.2 717.2 L 567 720.6 L 566.3 724.7 L 562.9 726.1 L 559.5 723.4 Z M 577.3 707.6 L 579.3 705.5 L 584.8 708.3 L 584.1 712.4 L 579.3 711 Z" fill="none" stroke="#151515" stroke-width="0.92"/>
<path d="M 567 720.6 L 571.1 719.2 L 575.2 714.5 L 577.3 707.6 M 571.1 719.2 L 571.8 726.1" fill="none" stroke="#151515" stroke-width="0.69"/>
<path d="M582.1 702.8 C583.0 703.3 586.2 703.9 587.5 705.5 C588.9 707.1 588.4 711.0 590.3 712.4 C592.1 713.8 596.2 712.9 598.5 713.8 C600.8 714.7 602.5 715.8 604.0 717.9 C605.5 719.9 606.5 723.8 607.4 726.1 C608.3 728.4 609.2 729.7 609.5 731.6 C609.7 733.4 609.3 735.7 608.8 737.1 C608.2 738.4 606.8 737.7 606.0 739.8 C605.2 741.8 605.2 746.4 604.0 749.4 C602.7 752.4 600.5 755.7 598.5 757.6 C596.4 759.5 593.9 760.3 591.6 761.0 C589.4 761.7 587.3 762.1 584.8 761.7 C582.3 761.4 577.9 759.4 576.6 759.0" fill="none" stroke="#151515" stroke-width="1.15"/>
<path d="M576.6 717.9 C577.0 718.6 577.9 720.8 579.3 722.0 C580.7 723.1 583.0 724.5 584.8 724.7 C586.6 725.0 588.7 724.3 590.3 723.4 C591.9 722.4 593.2 720.2 594.4 719.2 C595.6 718.3 596.9 718.1 597.4 717.9" fill="none" stroke="#151515" stroke-width="0.92"/>
<path d="M584.8 724.7 C584.5 725.9 582.9 729.1 582.7 731.6 C582.6 734.1 584.7 737.3 584.1 739.8 C583.5 742.3 580.6 745.0 579.3 746.6 C578.1 748.2 577.0 748.9 576.6 749.4" fill="none" stroke="#151515" stroke-width="0.92"/>
<path d="M594.4 730.2 C595.1 731.3 598.0 734.3 598.5 737.1 C598.9 739.8 598.3 743.9 597.1 746.6 C596.0 749.4 593.7 752.1 591.6 753.5 C589.6 754.9 587.1 755.3 584.8 754.9 C582.5 754.4 579.1 751.4 577.9 750.8" fill="none" stroke="#151515" stroke-width="0.8"/>
<path d="M577.9 714.5 C579.1 714.9 582.7 717.0 584.8 717.2 C586.8 717.4 588.0 716.3 590.3 715.8 C592.6 715.4 597.1 714.7 598.5 714.5" fill="none" stroke="#151515" stroke-width="0.69"/>
<path d="M575.2 730.2 C575.7 729.5 577.6 727.7 577.9 726.1 C578.3 724.5 577.5 722.0 577.3 720.6 C577.0 719.2 576.7 718.3 576.6 717.9" fill="none" stroke="#151515" stroke-width="0.8"/>
<path d="M 572.5 753.5 L 575.2 756.2 L 573.8 761.7 L 577.9 764.5 L 582.1 767.2 L 586.2 761.7 L 577.9 759 M 577.3 735.7 C 580 738.4 580.7 742.5 577.9 746.6" fill="none" stroke="#151515" stroke-width="0.8"/>
<path d="M 607.4 726.1 L 610.1 727.5 M 608.8 737.1 L 610.8 737.1" fill="none" stroke="#151515" stroke-width="0.57"/>
<path d="M 587.5 705.5 L 591 706.9 L 591.6 711.7" fill="none" stroke="#151515" stroke-width="0.69"/>
<path d="M 48.9 569.4 L 64.3 576.6 L 66.8 575.1 L 79.7 581.3" fill="none" stroke="#151515" stroke-width="1.03"/>
<path d="M 48.9 569.4 C 40.7 574.5 35.1 584.8 35.5 594 L 42.7 597.1" fill="none" stroke="#151515" stroke-width="1.03"/>
<path d="M 64.3 576.6 C 57.1 581.7 52 589.9 49.9 599.2 C 47.9 605.3 46.2 610.5 44.8 614.6" fill="none" stroke="#151515" stroke-width="0.92"/>
<path d="M 35.5 596.1 L 31.4 601.2 L 32.1 609.5 L 40.7 616.6 L 44.8 614.6 M 42.7 597.1 L 37.2 599.8 L 37.2 605.3 L 42.7 608.4 M 32.1 609.5 L 37.2 605.3" fill="none" stroke="#151515" stroke-width="0.92"/>
<path d="M44.8 614.6 C44.6 615.5 43.3 617.5 43.7 620.0 C44.1 622.5 46.2 626.1 47.0 629.9 C47.8 633.7 48.6 638.9 48.6 643.0 C48.6 647.1 48.1 650.4 47.0 654.5 C45.9 658.6 44.1 662.8 42.1 667.7 C40.1 672.6 37.0 678.6 34.7 684.1 C32.4 689.6 30.0 694.9 28.1 700.6 C26.2 706.4 24.4 712.9 23.2 718.6 C22.0 724.4 21.6 729.6 21.2 735.1 C20.8 740.6 20.7 747.0 21.0 751.5 C21.3 756.0 21.9 757.9 22.8 762.0 C23.7 766.1 24.9 772.3 26.4 776.3 C27.9 780.3 29.6 782.6 32.0 786.0 C34.4 789.4 37.8 793.9 40.8 796.8 C43.8 799.7 46.9 801.4 50.0 803.5 C53.1 805.6 57.8 808.2 59.3 809.2" fill="none" stroke="#151515" stroke-width="1.15"/>
<path d="M48.6 643.0 C48.8 644.9 50.0 650.4 49.5 654.5 C49.0 658.6 47.4 662.5 45.3 667.7 C43.2 672.9 39.6 680.0 37.1 685.8 C34.6 691.5 32.4 696.7 30.5 702.2 C28.6 707.7 26.8 713.1 25.6 718.6 C24.4 724.1 23.9 729.6 23.5 735.1 C23.1 740.6 23.1 747.0 23.4 751.6 C23.6 756.2 24.0 758.9 25.0 763.0 C26.0 767.1 27.8 772.5 29.5 776.3 C31.2 780.1 32.8 782.9 35.0 786.0 C37.2 789.1 40.2 792.2 42.9 794.8 C45.6 797.4 48.1 799.5 51.0 801.5 C53.9 803.5 58.8 806.2 60.3 807.1" fill="none" stroke="#151515" stroke-width="0.69"/>
<path d="M49.9 599.2 C50.0 601.0 50.0 606.2 50.5 610.0 C51.0 613.8 52.1 618.3 53.0 622.0 C53.9 625.7 55.4 628.5 56.0 632.0 C56.6 635.5 56.4 641.2 56.5 643.0" fill="none" stroke="#151515" stroke-width="0.69"/>
<path d="M66.8 575.1 C66.0 576.8 63.3 580.8 62.0 585.0 C60.7 589.2 59.4 595.9 59.2 600.2 C59.0 604.5 60.2 607.7 61.0 611.0 C61.8 614.3 62.3 616.9 64.2 620.0 C66.1 623.1 70.4 626.3 72.5 629.9 C74.6 633.5 75.8 637.6 76.6 641.4 C77.4 645.2 77.6 648.8 77.1 652.9 C76.5 657.0 75.0 661.9 73.3 666.0 C71.6 670.1 69.0 673.1 66.7 677.5 C64.4 681.9 61.8 686.8 59.3 692.3 C56.8 697.8 54.1 704.4 51.9 710.4 C49.7 716.4 47.7 722.8 46.2 728.5 C44.7 734.2 43.5 739.6 42.9 744.9 C42.2 750.1 41.9 754.8 42.3 760.0 C42.6 765.2 43.5 771.6 45.0 776.3 C46.5 781.0 48.6 784.2 51.0 788.0 C53.4 791.8 56.5 795.7 59.3 798.9 C62.1 802.1 64.9 804.5 68.0 807.0 C71.1 809.5 76.2 812.6 77.8 813.7" fill="none" stroke="#151515" stroke-width="0.8"/>
<path d="M75.5 665.4 C74.4 667.3 71.2 672.5 68.9 676.9 C66.6 681.3 64.0 686.2 61.5 691.7 C59.0 697.2 56.3 703.8 54.1 709.8 C51.9 715.8 49.9 722.1 48.4 727.9 C46.9 733.6 45.8 739.0 45.1 744.3 C44.5 749.5 44.1 754.2 44.5 759.4 C44.9 764.6 45.8 771.0 47.2 775.7 C48.7 780.4 50.8 783.6 53.2 787.4 C55.6 791.2 58.7 795.1 61.5 798.3 C64.3 801.5 67.1 803.9 70.2 806.4 C73.3 808.9 78.4 812.0 80.0 813.1" fill="none" stroke="#3a3a3a" stroke-width="0.57"/>
<path d="M125.1 647.9 C122.3 649.5 113.3 653.9 108.6 657.8 C103.9 661.6 100.6 666.3 97.1 671.0 C93.5 675.7 90.3 680.6 87.3 685.8 C84.3 691.0 81.5 696.5 79.0 702.2 C76.5 708.0 74.3 714.3 72.5 720.3 C70.7 726.3 69.3 732.6 68.4 738.4 C67.5 744.2 67.2 750.1 67.3 755.0 C67.4 759.9 68.1 764.0 69.0 768.0 C69.9 772.0 70.3 774.9 72.5 779.0 C74.7 783.1 79.0 789.2 81.9 792.7 C84.8 796.2 87.2 797.9 90.0 800.0 C92.8 802.1 95.1 804.4 98.4 805.1 C101.7 805.9 106.2 805.0 110.0 804.5 C113.8 804.0 119.2 802.4 121.0 802.0" fill="none" stroke="#151515" stroke-width="0.8"/>
<path d="M127.1 648.4 C124.3 650.0 115.3 654.4 110.6 658.3 C105.9 662.1 102.6 666.8 99.1 671.5 C95.5 676.2 92.3 681.1 89.3 686.3 C86.3 691.5 83.5 697.0 81.0 702.7 C78.5 708.5 76.3 714.8 74.5 720.8 C72.7 726.8 71.3 733.1 70.4 738.9 C69.5 744.7 69.2 750.6 69.3 755.5 C69.4 760.4 70.7 766.3 71.0 768.5" fill="none" stroke="#3a3a3a" stroke-width="0.57"/>
<path d="M130.0 674.2 C127.5 676.1 119.9 681.7 115.2 685.8 C110.5 689.9 105.7 694.5 102.1 698.9 C98.5 703.3 96.0 707.4 93.8 712.1 C91.6 716.8 90.0 721.7 88.9 726.9 C87.8 732.1 87.5 738.3 87.3 743.3 C87.1 748.3 87.2 752.2 88.0 757.0 C88.8 761.8 90.1 767.6 92.2 772.2 C94.3 776.9 97.2 782.2 100.4 784.9 C103.7 787.6 109.8 787.7 111.7 788.2" fill="none" stroke="#151515" stroke-width="0.69"/>
<path d="M 54 599.2 C 54.5 606.4 57.1 614.6 61.2 621.8 M 56.1 597.1 C 57.1 605.3 60.2 613.6 64.3 619.7" fill="none" stroke="#3a3a3a" stroke-width="0.57"/>
<path d="M 52 622.8 C 55.1 621.8 59.2 620.3 63.3 617.7 M 54 631 C 57.1 629.4 61.2 626.9 65.3 623.8" fill="none" stroke="#3a3a3a" stroke-width="0.57"/>
<path d="M 79.7 581.3 C 84.9 574.5 97.2 567.3 109.5 566.3 L 117.7 570.4 L 115.3 573.9 L 137.9 589.5 L 138.9 592.4 L 143.4 592.4 L 165 608" fill="none" stroke="#151515" stroke-width="1.15"/>
<path d="M 115.3 573.9 L 121.8 575.5 L 117.7 570.4 M 121.8 575.5 L 138.3 588.9 L 143.4 592.4" fill="none" stroke="#151515" stroke-width="0.69"/>
<path d="M 79.7 581.3 C 75.6 585.8 75 593 77.7 597.1 C 80.8 600.2 85.9 599.2 90 595.7 C 95.1 593 101.3 593 106.4 595.1 C 115.7 600.2 126 612.5 133.2 620.8 C 138.3 625.9 143.4 630 144.9 633.1 L 146.5 645.4 L 151.6 653.6" fill="none" stroke="#151515" stroke-width="1.03"/>
<path d="M 81.2 585.8 C 78.7 589.9 79.1 594 81.8 596.1 C 84.9 597.7 87.9 595.1 92.1 593 C 97.2 591 103.4 591 108.5 593.6 C 117.7 599.2 128 611.5 138.3 622.8 L 144.5 631.4" fill="none" stroke="#151515" stroke-width="0.69"/>
<path d="M 70.5 579.7 C 68.4 585.8 69.5 592 72.5 596.1 L 76.6 595.1" fill="none" stroke="#3a3a3a" stroke-width="0.57"/>
<ellipse cx="132.5" cy="642.3" rx="7.0" ry="7.4" transform="rotate(0 132.5 642.3)" fill="#fff" stroke="#151515" stroke-width="0.92"/>
<ellipse cx="132.5" cy="642.3" rx="5.5" ry="6.0" transform="rotate(0 132.5 642.3)" fill="none" stroke="#151515" stroke-width="0.69"/>
<ellipse cx="132.9" cy="642.7" rx="3.3" ry="3.7" transform="rotate(0 132.9 642.7)" fill="none" stroke="#151515" stroke-width="1.03"/>
<path d="M 138.3 646.4 L 150.6 653.6 M 136.2 648.5 L 146.5 655.7 L 149.6 657.7" fill="none" stroke="#151515" stroke-width="0.8"/>
<path d="M 126 638.2 C 117.7 626.9 108.5 621.8 102.3 625.9 L 94.7 634.1" fill="none" stroke="#151515" stroke-width="0.69"/>
<path d="M 130.1 588.9 C 122.9 600.2 120.2 616.6 122.3 626.9 C 123.1 632.1 124.7 635.5 126.4 637.6" fill="none" stroke="#3a3a3a" stroke-width="0.57"/>
<path d="M 165 609.5 C 150.6 616.6 138.3 616.6 126 606.4 M 165 622.8 C 156.8 626.9 148.6 626.9 141.4 624.9" fill="none" stroke="#3a3a3a" stroke-width="0.57"/>
<path d="M 59.2 604.3 C 72.5 610.5 93.1 624.9 105.4 641.3 C 111.6 651.6 113.6 657.7 114.7 661.8" fill="none" stroke="#3a3a3a" stroke-width="0.57"/>
<path d="M 102.3 625.9 C 106.4 637.2 117.7 647.5 130.1 651.6 M 94.7 634.1 C 101.3 645.4 111.6 655.7 123.9 661.8" fill="none" stroke="#3a3a3a" stroke-width="0.57"/>
<path d="M 80.8 651.6 C 93.1 641.3 109.5 637.2 126 639.2" fill="none" stroke="#3a3a3a" stroke-width="0.57"/>
<path d="M 126 651.6 C 124.9 655.7 126 658.8 129 660.8 M 129 645.4 L 127 657.7" fill="none" stroke="#3a3a3a" stroke-width="0.57"/>
<path d="M 133.2 659.8 C 138.3 654 150.6 650.5 165 647.9" fill="none" stroke="#151515" stroke-width="0.92"/>
<path d="M 133.2 659.8 C 130.1 670.1 133.2 684.5 143.4 695.8 L 147.5 700.1" fill="none" stroke="#151515" stroke-width="1.15"/>
<path d="M 136.2 661.8 C 133.8 671.1 136.2 683.4 145.5 693.7" fill="none" stroke="#151515" stroke-width="0.57"/>
<path d="M 154.7 600 L 230.7 672.9" fill="none" stroke="#151515" stroke-width="1.49"/>
<path d="M 130 619.5 L 142.7 630.8 L 145.4 641.1 L 149.5 652.4 L 162.9 649.3 L 221.4 704.8" fill="none" stroke="#151515" stroke-width="0.92"/>
<path d="M 130 623.6 L 140.7 633.9 L 143.4 643.6 L 148.1 654.5 M 150.5 654.7 L 162.9 651.6 L 220 706.8 M 151.6 656.9 L 163.9 653.8 L 218.4 708.9 L 219.6 712.2" fill="none" stroke="#151515" stroke-width="0.8"/>
<path d="M 153 660 L 165.3 657.3 M 166 660.6 L 167 668.8 L 210.5 712 L 212.2 715.1 L 215.3 717.5 L 220.4 715.1 L 221.4 704.8 M 166 660.6 L 212.2 707.9 L 212.2 715.1" fill="none" stroke="#151515" stroke-width="0.8"/>
<path d="M 169 665.8 L 209.1 705.8" fill="none" stroke="#3a3a3a" stroke-width="0.57"/>
<path d="M 134.1 659.6 C 130 669.9 133.1 684.2 146.4 696.6" fill="none" stroke="#151515" stroke-width="1.15"/>
<path d="M 146.4 696.6 L 220.4 741.8" fill="none" stroke="#151515" stroke-width="1.49"/>
<path d="M 134.1 659.6 C 138.2 655.9 145.4 656.5 151.6 660 L 212.2 716.1 C 215.3 723.3 218.4 733.6 220.4 741.8" fill="none" stroke="#151515" stroke-width="0.92"/>
<path d="M 136.6 662.1 C 133.7 670.9 136.2 683.2 148.5 694.5" fill="none" stroke="#151515" stroke-width="0.57"/>
<ellipse cx="132.5" cy="642.1" rx="5.3" ry="5.8" transform="rotate(0 132.5 642.1)" fill="none" stroke="#151515" stroke-width="0.8"/>
<path d="M 211.2 699.7 C 216.3 690.4 224.5 683.2 232.7 679.1" fill="none" stroke="#3a3a3a" stroke-width="0.57"/>
<path d="M 142.3 611.3 C 150.5 612.3 158.8 610.3 163.9 608.2" fill="none" stroke="#3a3a3a" stroke-width="0.57"/>
<path d="M 130 606.2 C 138.2 612.3 142.3 620.5 143.4 630.8" fill="none" stroke="#3a3a3a" stroke-width="0.57"/>
<path d="M 115.1 733.7 L 130.5 741.9 L 188.1 771.1 L 211.7 783 L 225.1 785.9" fill="none" stroke="#151515" stroke-width="1.15"/>
<path d="M 225.1 785.9 C 226.1 779.3 227.5 773.2 229.6 769 L 233.3 763.9 L 251.8 760.8 L 256.9 752.6 L 260 749.5" fill="none" stroke="#151515" stroke-width="1.03"/>
<path d="M 192.2 782.4 L 225.1 795.8 L 253.8 790.6 M 212.7 795.3 L 226.1 799.2 L 254.2 793.9" fill="none" stroke="#151515" stroke-width="1.03"/>
<path d="M 225.5 786.5 C 224 799.9 226.1 818.4 231.2 836.8 L 236.4 845.1 L 246.6 847.1 L 256.9 843 L 258.4 828.6 L 256.3 789.6 L 252.2 760.8" fill="none" stroke="#151515" stroke-width="0.92"/>
<path d="M 228.2 787.5 C 226.7 800.9 228.8 818.4 233.7 835.8 L 237.8 842.6" fill="none" stroke="#3a3a3a" stroke-width="0.57"/>
<path d="M 113.1 761.2 L 117.8 752.2 C 119.2 750.1 121.9 749.7 124.4 751 L 185.6 779.3 C 188.1 781 188.5 783 187.3 785.1 L 181.5 794.7 C 179.9 797 177.4 797.4 174.7 796.6 L 135.7 783.8 L 122.3 774.4 L 113.7 765.3 Z" fill="none" stroke="#151515" stroke-width="1.03"/>
<path d="M 116.2 761.2 L 119.9 754.2 C 120.9 752.6 122.7 752.4 124.8 753.4 L 183.6 781 C 185.2 782 185.4 783.4 184.6 784.9 L 179.9 792.9 C 178.6 794.5 177 794.9 174.9 794.1 L 136.7 781.4 L 124.4 772.3 L 116.8 764.5 Z" fill="none" stroke="#151515" stroke-width="0.69"/>
<path d="M 192.6 782.4 L 186 798.8 L 189.1 812.2 L 210.7 823.5 L 211.7 791.2" fill="none" stroke="#151515" stroke-width="0.8"/>
<path d="M 190.5 790 L 211.1 796.2 L 211.1 798.6 L 190.5 792.9 Z" fill="#8a8a8a" stroke="#151515" stroke-width="0.8"/>
<path d="M 189.1 796.2 L 211.1 802.3 L 211.1 804.8 L 189.1 799 Z" fill="#8a8a8a" stroke="#151515" stroke-width="0.8"/>
<path d="M 189.1 802.3 L 211.1 808.5 L 211.1 811 L 189.1 805.2 Z" fill="#8a8a8a" stroke="#151515" stroke-width="0.8"/>
<path d="M 190.5 808.5 L 211.1 814.7 L 211.1 817.1 L 190.5 811.4 Z" fill="#8a8a8a" stroke="#151515" stroke-width="0.8"/>
<path d="M 192.6 814.7 L 211.1 820.8 L 211.1 823.3 L 192.6 817.5 Z" fill="#8a8a8a" stroke="#151515" stroke-width="0.8"/>
<path d="M 110 786.5 L 122.3 792.7 L 130.5 794.7 L 142.9 800.9 L 153.2 803.4 L 154.2 804 L 192.2 824.5 L 210.7 857.4 L 233.3 865.6 L 245.6 861.5 L 246.6 847.1" fill="none" stroke="#151515" stroke-width="1.03"/>
<path d="M 154.2 804 L 193.2 824.9 L 231.2 842.4 L 236.4 845.1" fill="none" stroke="#151515" stroke-width="1.03"/>
<path d="M 235.3 845.1 L 235.8 863.6 M 245.6 848.2 L 244.6 861.5" fill="none" stroke="#3a3a3a" stroke-width="0.57"/>
<path d="M 59.3 809.2 L 62.4 820.5 L 74.7 826.6 L 79.9 824.6 L 122 806.1 L 121 796.8 L 125.1 790.7" fill="none" stroke="#151515" stroke-width="1.03"/>
<path d="M 77.8 824.6 L 77.8 815.3 L 69.6 815.3 L 64.5 820.5 M 69.6 815.3 L 59.3 809.2" fill="none" stroke="#151515" stroke-width="0.8"/>
<path d="M114.6 732.3 C113.5 729.9 110.2 722.7 108.0 717.5 C105.8 712.3 102.5 703.8 101.4 701.1" fill="none" stroke="#3a3a3a" stroke-width="0.57"/>
<path d="M101.4 701.1 C103.4 702.5 109.1 706.6 112.9 709.3 C116.8 712.1 119.8 714.8 124.5 717.5 C129.1 720.3 138.2 724.4 140.9 725.8" fill="none" stroke="#3a3a3a" stroke-width="0.57"/>
<path d="M101.4 701.1 C102.8 699.2 106.4 693.4 109.7 689.6 C112.9 685.8 117.3 681.1 121.2 678.1 C125.0 675.1 130.8 672.6 132.7 671.5" fill="none" stroke="#3a3a3a" stroke-width="0.57"/>
<path d="M124.5 717.5 C125.5 715.9 128.6 710.4 131.0 707.7 C133.5 704.9 136.8 702.7 139.2 701.1 C141.7 699.5 144.7 698.4 145.8 697.8" fill="none" stroke="#3a3a3a" stroke-width="0.57"/>
<path d="M 89.9 725.8 L 114.6 732.3" fill="none" stroke="#3a3a3a" stroke-width="0.57"/>
<path d="M124.5 717.5 C123.4 720.0 119.5 728.2 117.9 732.3 C116.2 736.4 115.7 737.8 114.6 742.2 C113.5 746.6 111.8 755.9 111.3 758.6" fill="none" stroke="#3a3a3a" stroke-width="0.57"/>
<path d="M88.3 732.3 C88.6 729.9 88.8 722.2 89.9 717.5 C91.0 712.9 92.9 707.1 94.9 704.4 C96.8 701.6 100.3 701.6 101.4 701.1" fill="none" stroke="#3a3a3a" stroke-width="0.57"/>
<path d="M140.9 725.8 C141.0 724.4 140.6 720.3 141.7 717.5 C142.8 714.8 144.9 711.6 147.5 709.3 C150.1 707.0 155.7 704.5 157.3 703.6" fill="none" stroke="#151515" stroke-width="0.92"/>
<path d="M 140.9 725.8 L 147.5 734 L 205 765.2 L 207.5 766.8" fill="none" stroke="#151515" stroke-width="0.92"/>
<path d="M145.8 733.2 C146.6 731.6 148.6 727.0 150.8 724.1 C152.9 721.2 156.2 718.1 159.0 715.9 C161.7 713.7 165.8 711.8 167.2 711.0" fill="none" stroke="#3a3a3a" stroke-width="0.57"/>
<path d="M85.0 692.9 C86.6 690.1 90.5 681.9 94.9 676.4 C99.2 671.0 108.6 662.7 111.3 660.0" fill="none" stroke="#3a3a3a" stroke-width="0.57"/>
<path d="M112.1 663.3 C113.1 664.0 115.5 666.6 117.9 667.4 C120.2 668.2 123.6 668.5 126.1 668.2 C128.6 667.9 131.6 666.2 132.7 665.8" fill="none" stroke="#3a3a3a" stroke-width="0.57"/>
<path d="M 122.2 804.9 L 144.8 814.5 L 153 813.2 L 153.7 804.2" fill="none" stroke="#151515" stroke-width="1.03"/>
<path d="M 142.7 799.5 L 142.1 812.7 L 144.8 814.5 M 144.8 800.8 L 144.8 814.1" fill="none" stroke="#151515" stroke-width="0.69"/>
<path d="M129.7 794.7 C129.6 795.4 128.9 797.6 128.8 799.0 C128.6 800.5 128.7 802.1 128.8 803.6 C128.9 805.0 129.3 807.2 129.5 807.9" fill="none" stroke="#3a3a3a" stroke-width="0.57"/>
<path d="M125.9 793.0 C125.7 793.7 124.8 795.9 124.5 797.4 C124.2 798.9 124.2 800.8 124.2 802.2 C124.3 803.6 124.8 805.3 124.9 805.9" fill="none" stroke="#3a3a3a" stroke-width="0.57"/>
<path d="M90.0 802.9 C92.3 803.1 98.4 803.9 103.7 804.2 C108.9 804.6 118.5 804.8 121.5 804.9" fill="none" stroke="#3a3a3a" stroke-width="0.57"/>
<path d="M98.2 781.0 C99.8 781.6 104.6 783.9 107.8 785.1 C111.0 786.3 115.8 787.6 117.4 788.1" fill="none" stroke="#3a3a3a" stroke-width="0.57"/>
<path d="M 227.5 780.5 L 241.2 777.1 L 252.9 773" fill="none" stroke="#151515" stroke-width="0.92"/>
<path d="M224.8 787.4 C225.0 785.8 225.0 781.2 225.9 777.8 C226.8 774.4 229.5 768.7 230.3 766.8" fill="none" stroke="#3a3a3a" stroke-width="0.57"/>
<path d="M230.7 672.9 C231.4 674.1 233.3 677.2 235.2 680.0 C237.1 682.8 240.5 687.3 242.1 689.6 C243.7 691.9 243.7 692.3 244.8 693.7 C245.9 695.1 247.5 695.5 248.9 697.8 C250.3 700.1 252.0 704.9 253.0 707.4 C254.0 709.9 253.7 710.6 255.1 712.9 C256.4 715.2 259.7 718.8 261.2 721.1 C262.7 723.4 263.5 725.7 264.0 726.6" fill="none" stroke="#151515" stroke-width="1.26"/>
<path d="M 264 726.6 L 261.9 728.2 L 257.1 731" fill="none" stroke="#151515" stroke-width="1.15"/>
<path d="M257.1 731.0 C256.5 732.1 254.2 735.7 253.3 737.5 C252.4 739.4 251.2 741.0 251.6 741.9 C252.1 742.8 254.5 742.5 255.8 743.0 C257.0 743.5 258.7 744.2 259.2 745.1 C259.6 746.0 259.1 747.6 258.5 748.5 C257.9 749.4 256.2 750.2 255.8 750.5" fill="none" stroke="#151515" stroke-width="1.15"/>
<path d="M255.8 714.2 C254.6 714.9 251.0 716.3 248.9 718.4 C246.8 720.4 244.7 723.4 243.4 726.6 C242.2 729.8 241.3 734.3 241.4 737.5 C241.5 740.7 242.9 743.7 244.1 745.8 C245.4 747.8 247.0 749.1 248.9 749.9 C250.8 750.7 254.6 750.4 255.8 750.5" fill="none" stroke="#151515" stroke-width="1.03"/>
<path d="M254.4 717.0 C253.6 717.6 251.2 718.7 249.6 720.4 C248.0 722.1 245.9 724.4 244.8 727.3 C243.7 730.1 243.0 734.7 243.2 737.5 C243.3 740.4 244.3 742.7 245.5 744.4 C246.7 746.1 249.5 747.2 250.3 747.8" fill="none" stroke="#151515" stroke-width="0.69"/>
<path d="M261.9 728.2 C260.9 729.1 257.4 731.7 255.8 733.7 C254.2 735.7 253.0 738.9 252.3 740.3 C251.6 741.6 251.8 741.6 251.6 741.9" fill="none" stroke="#151515" stroke-width="0.69"/>
<path d="M 255.8 750.5 L 254.4 762.2 L 253 780.7" fill="none" stroke="#151515" stroke-width="1.03"/>
<path d="M242.1 689.6 C240.9 691.0 237.7 695.3 235.2 697.8 C232.7 700.3 229.0 702.7 227.0 704.7 C224.9 706.6 223.6 708.7 222.9 709.5" fill="none" stroke="#151515" stroke-width="1.03"/>
<path d="M244.8 693.7 C243.5 694.8 239.9 698.4 237.3 700.5 C234.6 702.7 231.0 705.2 229.0 706.7 C227.1 708.2 226.0 709.0 225.3 709.5" fill="none" stroke="#151515" stroke-width="0.92"/>
<path d="M222.9 709.5 C223.4 712.1 225.4 720.1 226.3 725.2 C227.2 730.3 228.4 735.9 228.4 740.3 C228.3 744.6 226.7 747.6 225.9 751.2 C225.1 754.9 223.9 760.4 223.6 762.2" fill="none" stroke="#151515" stroke-width="1.26"/>
<path d="M221.8 712.9 C222.3 715.2 224.1 722.0 224.9 726.6 C225.8 731.1 226.8 735.9 226.7 740.3 C226.6 744.6 224.9 748.9 224.2 752.6 C223.6 756.3 223.1 760.6 222.9 762.2" fill="none" stroke="#151515" stroke-width="0.8"/>
<path d="M214.0 717.0 C214.5 718.4 216.6 722.2 217.4 725.2 C218.2 728.2 218.8 732.3 218.8 734.8 C218.8 737.3 218.1 737.1 217.4 740.3 C216.7 743.5 215.3 751.0 214.7 754.0 C214.0 756.9 213.5 757.4 213.3 758.1" fill="none" stroke="#151515" stroke-width="1.03"/>
<path d="M 213.3 714.2 L 219.5 717.7 L 222.2 712.9 M 213.3 758.1 L 219.5 762.2 L 223.6 762.2 L 231.1 762.2" fill="none" stroke="#151515" stroke-width="0.92"/>
<path d="M 231.1 762.2 L 228.4 780.7" fill="none" stroke="#151515" stroke-width="0.92"/>
<path d="M213.3 758.1 C212.4 758.3 209.2 757.9 207.8 759.5 C206.4 761.1 205.1 764.5 205.1 767.7 C205.1 770.9 207.4 776.8 207.8 778.6" fill="none" stroke="#3a3a3a" stroke-width="0.57"/>
<path d="M213.3 693.7 C214.2 692.8 216.7 690.0 218.8 688.2 C220.8 686.4 223.3 684.1 225.6 682.7 C227.9 681.4 231.3 680.5 232.5 680.0" fill="none" stroke="#3a3a3a" stroke-width="0.57"/>
<path d="M 219.5 762.2 L 231.1 767.7 M 190 760.8 L 206.4 769 L 228.4 779.3" fill="none" stroke="#151515" stroke-width="0.69"/>
<text transform="matrix(1 0.4685 0 1 123.0 767.6)" x="0" y="0" textLength="51" lengthAdjust="spacingAndGlyphs" style="font-family:'Liberation Sans',sans-serif;font-size:17px;font-weight:bold;text-anchor:start;fill:#fff;stroke:#111;stroke-width:2px;paint-order:stroke">maktec</text>
<circle cx="176.2" cy="791.4" r="1.1" fill="#111"/>
</g>
<g class="lb">
<text x="547.8" y="93.8">23</text>
<text x="569.5" y="174.3">1</text>
<text x="682.2" y="240.3">2</text>
<text x="431" y="245.8">10</text>
<text x="359.5" y="215.8">11</text>
<text x="307.7" y="260.6">12</text>
<text x="534.3" y="494.2">7</text>
<text x="471.3" y="507.2">8</text>
<text x="471.3" y="549.2">9</text>
<text x="611" y="536.2">6</text>
<text x="574.5" y="581.2">5</text>
<text x="547.7" y="661">4</text>
<text x="627" y="708">3</text>
<text x="479.8" y="733">19</text>
<text x="537" y="795">20</text>
<text x="115.6" y="513.4">13</text>
<text x="135.4" y="524.8">14</text>
<text x="220.5" y="627.2">15</text>
<text x="273" y="608.8">16</text>
<text x="297.8" y="623.5">17</text>
<text x="386.4" y="703">18</text>
<text x="198.5" y="896.4">21</text>
</g>
</svg>
</body></html>
